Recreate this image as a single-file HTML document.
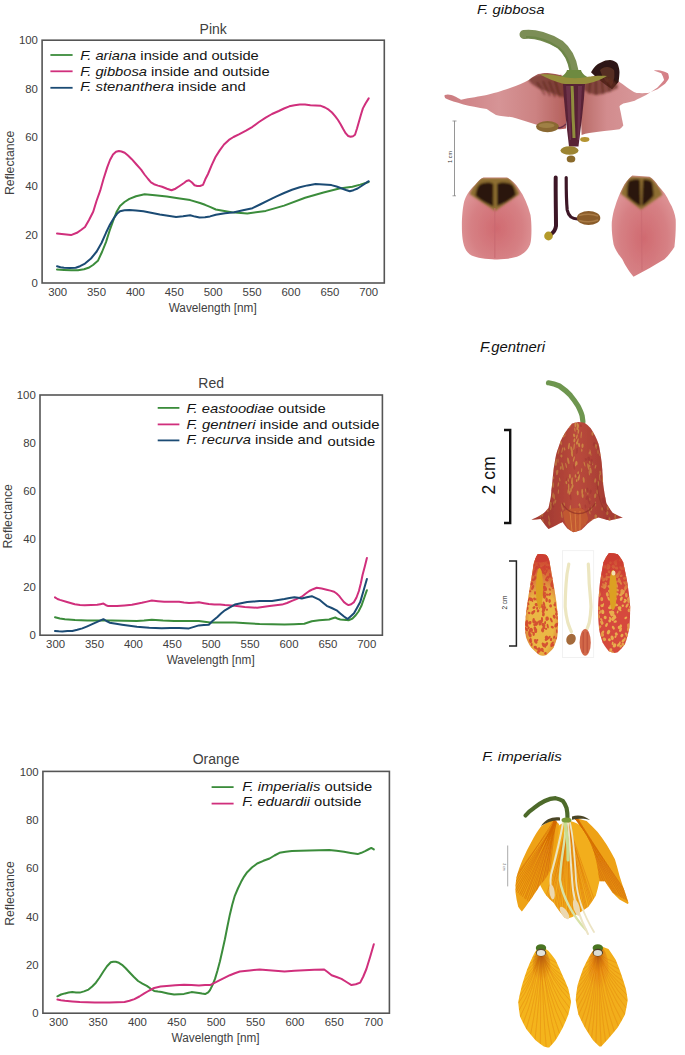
<!DOCTYPE html>
<html><head><meta charset="utf-8"><title>Fritillaria reflectance</title>
<style>
html,body{margin:0;padding:0;background:#fff;}
body{width:685px;height:1055px;overflow:hidden;font-family:"Liberation Sans",sans-serif;}
svg{display:block;}
.tk{font-family:"Liberation Sans",sans-serif;font-size:11.4px;fill:#404040;}
.lb{font-family:"Liberation Sans",sans-serif;font-size:12px;fill:#404040;}
.tt{font-family:"Liberation Sans",sans-serif;font-size:14px;fill:#404040;}
.lg{font-family:"Liberation Sans",sans-serif;font-size:12.8px;fill:#141414;}
.ft{font-family:"Liberation Sans",sans-serif;font-size:13.6px;font-style:italic;fill:#111;}
</style></head>
<body>
<svg width="685" height="1055" viewBox="0 0 685 1055">
<rect width="685" height="1055" fill="#fff"/>
<rect x="42.1" y="40.2" width="342.2" height="242.8" fill="none" stroke="#555555" stroke-width="1.6"/>
<text x="37.9" y="287.1" text-anchor="end" class="tk">0</text>
<text x="37.9" y="238.5" text-anchor="end" class="tk">20</text>
<text x="37.9" y="190.0" text-anchor="end" class="tk">40</text>
<text x="37.9" y="141.4" text-anchor="end" class="tk">60</text>
<text x="37.9" y="92.9" text-anchor="end" class="tk">80</text>
<text x="37.9" y="44.3" text-anchor="end" class="tk">100</text>
<text x="57.7" y="296.0" text-anchor="middle" class="tk">300</text>
<text x="96.5" y="296.0" text-anchor="middle" class="tk">350</text>
<text x="135.4" y="296.0" text-anchor="middle" class="tk">400</text>
<text x="174.3" y="296.0" text-anchor="middle" class="tk">450</text>
<text x="213.2" y="296.0" text-anchor="middle" class="tk">500</text>
<text x="252.1" y="296.0" text-anchor="middle" class="tk">550</text>
<text x="291.0" y="296.0" text-anchor="middle" class="tk">600</text>
<text x="329.9" y="296.0" text-anchor="middle" class="tk">650</text>
<text x="368.7" y="296.0" text-anchor="middle" class="tk">700</text>
<text x="168.7" y="311.5" class="lb" textLength="88" lengthAdjust="spacingAndGlyphs">Wavelength [nm]</text>
<text transform="translate(13.6,195.1) rotate(-90)" class="lb" textLength="64.5" lengthAdjust="spacingAndGlyphs">Reflectance</text>
<text x="213.2" y="33.5" text-anchor="middle" class="tt">Pink</text>
<polyline fill="none" stroke="#3b8c3b" stroke-width="2.00" stroke-linejoin="round" stroke-linecap="round" points="57.0,269.5 64.0,269.9 71.0,270.2 78.0,270.2 84.0,269.3 88.5,267.8 93.0,265.0 97.9,260.8 102.0,252.0 106.0,242.1 109.5,231.0 113.0,221.1 116.5,212.0 120.0,205.9 124.5,202.0 129.4,198.9 136.0,196.2 144.6,194.2 155.0,195.2 166.8,196.6 178.0,198.2 190.2,200.1 200.0,203.0 205.0,204.8 210.0,206.9 215.8,209.5 231.5,212.2 247.3,213.5 265.7,210.9 284.1,205.6 305.1,197.7 323.5,192.5 339.3,188.5 352.4,186.7 360.3,184.6 368.7,182.0"/>
<polyline fill="none" stroke="#d02f7c" stroke-width="2.00" stroke-linejoin="round" stroke-linecap="round" points="57.0,233.5 64.0,234.3 71.0,235.1 76.9,232.8 81.0,230.0 85.0,227.0 89.0,220.0 93.2,211.8 96.5,201.0 100.2,190.7 103.5,179.0 107.2,167.4 110.0,160.0 113.0,154.5 116.0,151.8 118.9,151.0 121.5,151.5 124.7,152.7 128.0,155.5 131.8,159.2 136.5,164.5 141.1,169.7 144.5,174.5 148.1,179.0 151.0,182.3 154.0,184.2 158.0,185.6 162.1,186.8 167.0,188.8 171.5,190.3 175.5,188.7 179.6,186.0 184.0,183.0 186.5,181.0 189.0,180.2 192.0,182.5 194.5,185.2 197.2,186.0 200.0,186.0 203.0,184.9 205.3,179.3 208.0,174.0 211.8,164.9 215.5,157.0 219.7,150.4 224.0,144.5 228.9,139.9 233.5,137.0 239.4,134.1 246.0,130.6 252.5,126.8 259.0,122.0 265.7,117.6 272.0,114.0 278.8,111.0 284.0,108.5 289.3,106.3 294.5,105.2 299.8,104.5 305.0,104.6 310.4,105.2 315.6,105.4 320.9,105.8 325.0,107.5 328.7,109.7 332.0,112.5 335.3,116.3 338.0,120.0 340.6,124.2 343.2,129.0 345.8,133.4 348.2,136.0 350.6,136.8 353.0,136.2 355.0,134.7 357.0,128.5 359.0,121.5 361.0,114.5 362.9,108.4 365.5,103.5 368.7,98.4"/>
<polyline fill="none" stroke="#1b4b74" stroke-width="2.00" stroke-linejoin="round" stroke-linecap="round" points="57.0,266.2 60.5,267.2 64.0,267.8 70.0,267.9 75.7,267.8 80.0,266.2 85.0,263.6 91.0,258.5 96.7,251.5 101.5,243.0 106.0,232.8 110.0,224.5 114.2,217.6 117.0,213.8 120.0,211.3 124.5,210.3 129.4,209.9 136.0,210.4 143.4,211.3 151.0,212.8 159.8,214.6 168.0,215.8 176.1,216.9 183.0,216.3 190.2,215.3 195.0,216.6 199.5,217.6 205.0,217.3 210.0,216.4 215.8,214.8 225.0,213.2 234.2,212.2 243.0,210.3 252.5,208.2 260.0,204.5 268.3,200.4 276.0,196.6 284.1,193.0 292.0,189.8 299.8,187.2 307.5,185.4 315.6,184.1 323.5,184.4 331.4,185.1 336.5,186.5 341.9,188.5 346.0,190.0 349.8,191.2 353.5,190.2 357.6,188.5 363.0,185.0 368.7,181.2"/>
<line x1="50.4" y1="55.0" x2="72.6" y2="55.0" stroke="#3b8c3b" stroke-width="1.8"/>
<text x="80.2" y="59.9" class="lg" textLength="178.6" lengthAdjust="spacingAndGlyphs"><tspan font-style="italic">F. ariana</tspan> inside and outside</text>
<line x1="50.4" y1="71.3" x2="72.6" y2="71.3" stroke="#d02f7c" stroke-width="1.8"/>
<text x="80.2" y="75.5" class="lg" textLength="189.4" lengthAdjust="spacingAndGlyphs"><tspan font-style="italic">F. gibbosa</tspan> inside and outside</text>
<line x1="50.4" y1="87.8" x2="72.6" y2="87.8" stroke="#1b4b74" stroke-width="1.8"/>
<text x="80.2" y="90.9" class="lg" textLength="165.5" lengthAdjust="spacingAndGlyphs"><tspan font-style="italic">F. stenanthera</tspan> inside and</text>
<rect x="40.0" y="395.0" width="342.4" height="240.2" fill="none" stroke="#555555" stroke-width="1.6"/>
<text x="35.8" y="639.3" text-anchor="end" class="tk">0</text>
<text x="35.8" y="591.3" text-anchor="end" class="tk">20</text>
<text x="35.8" y="543.2" text-anchor="end" class="tk">40</text>
<text x="35.8" y="495.2" text-anchor="end" class="tk">60</text>
<text x="35.8" y="447.1" text-anchor="end" class="tk">80</text>
<text x="35.8" y="399.1" text-anchor="end" class="tk">100</text>
<text x="55.6" y="648.2" text-anchor="middle" class="tk">300</text>
<text x="94.5" y="648.2" text-anchor="middle" class="tk">350</text>
<text x="133.4" y="648.2" text-anchor="middle" class="tk">400</text>
<text x="172.3" y="648.2" text-anchor="middle" class="tk">450</text>
<text x="211.2" y="648.2" text-anchor="middle" class="tk">500</text>
<text x="250.1" y="648.2" text-anchor="middle" class="tk">550</text>
<text x="289.0" y="648.2" text-anchor="middle" class="tk">600</text>
<text x="327.9" y="648.2" text-anchor="middle" class="tk">650</text>
<text x="366.8" y="648.2" text-anchor="middle" class="tk">700</text>
<text x="166.7" y="663.7" class="lb" textLength="88" lengthAdjust="spacingAndGlyphs">Wavelength [nm]</text>
<text transform="translate(11.5,548.6) rotate(-90)" class="lb" textLength="64.5" lengthAdjust="spacingAndGlyphs">Reflectance</text>
<text x="211.2" y="388.2" text-anchor="middle" class="tt">Red</text>
<polyline fill="none" stroke="#3b8c3b" stroke-width="2.00" stroke-linejoin="round" stroke-linecap="round" points="55.0,617.2 59.9,618.5 64.9,619.2 75.0,620.0 87.2,620.5 100.0,620.5 112.0,620.5 124.0,620.8 136.9,621.0 144.0,620.5 151.8,619.7 163.0,620.5 174.1,621.0 186.0,621.0 198.9,621.0 210.0,622.5 222.0,622.5 234.8,622.5 247.0,623.2 259.6,624.0 272.0,624.3 284.5,624.5 294.0,624.2 304.3,623.7 308.0,622.5 311.8,621.2 319.2,620.2 329.1,619.5 332.0,618.5 335.3,617.5 338.0,618.8 340.3,619.5 349.0,620.2 352.5,618.5 355.2,615.8 358.5,611.5 361.4,605.8 364.0,598.5 366.9,590.2"/>
<polyline fill="none" stroke="#d02f7c" stroke-width="2.00" stroke-linejoin="round" stroke-linecap="round" points="55.0,597.4 57.5,599.0 59.9,599.9 67.0,602.0 74.8,604.3 80.0,605.0 84.7,605.3 91.0,605.1 97.2,604.8 100.3,604.2 103.4,603.6 106.0,605.2 108.3,606.1 117.0,606.1 124.5,605.5 131.9,604.8 137.0,603.7 141.8,602.8 147.0,601.6 151.8,600.6 158.0,601.2 164.2,601.8 171.6,601.8 179.1,601.8 184.0,602.5 189.0,603.1 194.0,602.7 198.9,602.3 204.0,603.2 208.8,604.1 214.4,604.4 220.0,604.5 224.9,605.1 234.8,605.8 244.7,607.1 257.2,607.8 269.6,606.1 282.0,604.6 287.0,603.0 291.9,600.9 297.0,598.8 301.8,596.7 305.5,593.8 309.3,591.0 313.0,589.2 316.7,587.7 321.7,588.5 326.7,589.7 330.4,590.6 334.1,591.7 336.6,593.5 339.1,595.9 341.5,599.0 344.0,602.1 346.2,603.8 348.5,605.1 351.2,604.2 354.0,602.1 356.5,597.5 358.9,591.0 360.8,583.5 362.6,574.8 364.8,566.5 366.9,557.9"/>
<polyline fill="none" stroke="#1b4b74" stroke-width="2.00" stroke-linejoin="round" stroke-linecap="round" points="55.0,630.9 58.7,631.3 62.4,631.4 67.4,631.1 72.3,630.9 77.3,629.8 82.3,628.4 87.3,626.3 92.2,624.2 97.8,621.7 103.4,619.2 106.5,621.0 109.6,622.7 116.0,623.8 122.0,624.7 129.5,625.7 136.9,626.7 143.0,627.2 149.3,627.7 155.5,628.0 161.7,628.2 170.4,628.0 179.1,627.9 184.0,628.2 189.0,628.4 194.0,626.9 198.9,625.4 203.9,625.0 208.8,624.7 212.5,621.0 217.4,617.0 221.0,613.5 224.9,610.3 229.9,607.4 234.8,604.6 241.0,603.3 247.2,602.1 253.4,601.6 259.6,601.1 265.8,601.0 272.0,600.9 278.2,600.0 284.5,599.1 289.5,598.1 294.4,597.2 298.1,597.8 301.8,598.4 306.8,597.3 311.8,596.2 315.5,597.9 319.2,599.6 323.0,602.7 326.7,605.8 331.7,608.0 336.6,610.3 340.3,613.4 344.0,616.5 345.9,617.8 347.7,619.0 350.8,616.2 354.0,613.3 357.1,607.7 360.2,602.1 363.6,590.5 366.9,579.0"/>
<line x1="157.7" y1="407.9" x2="179.4" y2="407.9" stroke="#3b8c3b" stroke-width="1.8"/>
<text x="186.5" y="413.0" class="lg" textLength="139.2" lengthAdjust="spacingAndGlyphs"><tspan font-style="italic">F. eastoodiae</tspan> outside</text>
<line x1="157.7" y1="424.4" x2="179.4" y2="424.4" stroke="#d02f7c" stroke-width="1.8"/>
<text x="186.5" y="428.8" class="lg" textLength="193.0" lengthAdjust="spacingAndGlyphs"><tspan font-style="italic">F. gentneri</tspan> inside and outside</text>
<line x1="157.7" y1="440.4" x2="179.4" y2="440.4" stroke="#1b4b74" stroke-width="1.8"/>
<text x="186.5" y="443.8" class="lg" textLength="135.7" lengthAdjust="spacingAndGlyphs"><tspan font-style="italic">F. recurva</tspan> inside and</text>
<text x="327.6" y="446.2" class="lg" textLength="47.6" lengthAdjust="spacingAndGlyphs">outside</text>
<rect x="42.9" y="771.4" width="346.5" height="241.8" fill="none" stroke="#555555" stroke-width="1.6"/>
<text x="38.7" y="1017.3" text-anchor="end" class="tk">0</text>
<text x="38.7" y="968.9" text-anchor="end" class="tk">20</text>
<text x="38.7" y="920.6" text-anchor="end" class="tk">40</text>
<text x="38.7" y="872.2" text-anchor="end" class="tk">60</text>
<text x="38.7" y="823.9" text-anchor="end" class="tk">80</text>
<text x="38.7" y="775.5" text-anchor="end" class="tk">100</text>
<text x="58.6" y="1026.2" text-anchor="middle" class="tk">300</text>
<text x="98.0" y="1026.2" text-anchor="middle" class="tk">350</text>
<text x="137.4" y="1026.2" text-anchor="middle" class="tk">400</text>
<text x="176.8" y="1026.2" text-anchor="middle" class="tk">450</text>
<text x="216.2" y="1026.2" text-anchor="middle" class="tk">500</text>
<text x="255.5" y="1026.2" text-anchor="middle" class="tk">550</text>
<text x="294.9" y="1026.2" text-anchor="middle" class="tk">600</text>
<text x="334.3" y="1026.2" text-anchor="middle" class="tk">650</text>
<text x="373.6" y="1026.2" text-anchor="middle" class="tk">700</text>
<text x="171.6" y="1041.7" class="lb" textLength="88" lengthAdjust="spacingAndGlyphs">Wavelength [nm]</text>
<text transform="translate(14.4,925.8) rotate(-90)" class="lb" textLength="64.5" lengthAdjust="spacingAndGlyphs">Reflectance</text>
<text x="216.1" y="764.3" text-anchor="middle" class="tt">Orange</text>
<polyline fill="none" stroke="#3b8c3b" stroke-width="2.00" stroke-linejoin="round" stroke-linecap="round" points="57.4,996.3 61.0,994.5 64.9,993.4 68.6,992.6 72.3,992.1 76.0,992.4 79.8,992.6 84.0,991.4 88.5,989.6 92.2,986.5 95.9,982.7 99.6,977.5 103.4,971.5 107.0,966.3 110.8,962.3 113.3,961.7 115.8,961.8 118.9,962.8 122.0,964.8 125.7,968.3 129.4,972.3 133.7,976.8 138.1,981.0 142.4,983.6 146.8,985.9 150.5,988.5 154.2,990.9 158.0,991.6 161.7,992.1 167.9,993.4 174.1,994.6 179.0,994.3 184.0,993.9 187.8,993.0 191.5,992.1 195.2,992.4 198.9,992.9 202.0,993.6 205.1,994.1 208.2,992.4 210.0,990.1 212.5,985.0 215.0,978.9 217.5,970.5 219.9,961.5 222.4,950.5 224.9,939.2 227.4,926.5 229.9,914.4 232.3,904.5 234.8,895.8 237.9,888.5 241.0,882.1 244.1,876.6 247.2,872.2 252.2,867.3 257.2,863.5 263.4,860.8 269.6,858.5 274.5,855.5 279.5,852.8 285.7,851.8 291.9,851.1 300.6,850.8 309.3,850.6 319.2,850.2 329.1,849.9 336.5,850.8 344.0,851.8 350.8,852.9 357.7,854.1 361.4,852.8 365.1,851.1 368.2,849.5 371.3,847.9 373.8,849.4"/>
<polyline fill="none" stroke="#d02f7c" stroke-width="2.00" stroke-linejoin="round" stroke-linecap="round" points="57.4,999.6 61.0,1000.3 64.9,1000.8 72.3,1001.4 79.8,1002.0 87.2,1002.3 94.7,1002.5 102.0,1002.5 109.6,1002.5 117.0,1002.3 124.5,1002.0 129.5,1000.8 134.4,999.1 139.4,996.5 144.3,993.4 149.3,990.5 154.2,987.9 160.5,986.6 166.7,985.9 175.3,985.3 184.0,984.7 191.5,985.0 198.9,985.4 205.1,985.0 210.0,985.1 215.0,982.6 219.9,980.2 224.9,977.7 229.9,975.2 234.8,973.2 239.8,971.5 249.7,970.5 259.6,969.5 272.0,970.5 284.5,971.5 294.4,970.8 304.3,970.2 314.3,969.8 324.2,969.5 327.9,972.2 331.6,975.2 336.6,977.0 341.5,978.9 346.5,982.0 351.5,985.1 355.8,984.3 360.2,982.6 363.3,976.5 366.4,969.0 370.1,957.0 373.8,944.2"/>
<line x1="211.6" y1="787.1" x2="233.6" y2="787.1" stroke="#3b8c3b" stroke-width="1.8"/>
<text x="242.3" y="790.5" class="lg" textLength="130.0" lengthAdjust="spacingAndGlyphs"><tspan font-style="italic">F. imperialis</tspan> outside</text>
<line x1="211.6" y1="803.6" x2="233.6" y2="803.6" stroke="#d02f7c" stroke-width="1.8"/>
<text x="242.3" y="805.5" class="lg" textLength="119.2" lengthAdjust="spacingAndGlyphs"><tspan font-style="italic">F. eduardii</tspan> outside</text>
<defs>
<clipPath id="cpGibF"><path d="M583,80 C588,78 593,76 598.7,75.1 C602,75.5 605,75.6 608.1,76.1 C611,77.5 614,79 617.6,80.8 C621,83 624,85 627.1,87.4 C630,89.5 633,91.5 636.6,93.1 C640,93.3 644,93.3 648,93.1 C651,92 654,90.8 657.5,89.3 C660,87.5 662.5,85.5 665.1,83.7 C667,81.5 668.5,79.5 668.9,78 C669,76 668.5,74.5 667.9,73.2 C665,71.8 662.5,70.8 660.3,70.4 C658,70.2 655.5,70.2 653.7,70.4 C656,71.2 658.5,72.2 661.3,73.2 C662.5,75.5 663.5,77.5 664.1,79.9 C662,82.5 660,85 657.5,87.4 C654,90 650,92.5 646.1,95 C642,97 638,99 634.7,100.7 C631,101.8 627,102.8 623.3,103.6 C621.5,104.5 620,105.5 619.5,106.4 C620,109.5 621,113 621.4,115.9 C622,119 622.8,122.5 623.3,125.4 C622,127 620.8,128.2 619.5,129.2 C614,129.8 609,130.5 604.3,131.1 C599,131.7 594,132.3 589.2,133 C586.5,133.5 584,134.2 581.6,134.9 L580,90 Z"/><path d="M444.7,95.1 C450,93 456,97 461,99.7 C470,98 480,96.5 486.7,95.1 C497,92.5 505,90 510,88.1 C518,85 524,82.5 528.8,79.9 C533,77 536,75 538.1,74.1 C542,73 545,72.8 547.5,72.9 C553,73.5 558,74.5 561.5,75.2 L566,86 L566,128.5 C562,129.5 559,129.3 556.8,129 C552,128.5 548,128 545,127.8 C540,125.5 535,124.3 531.1,123.1 C525,121 518,119 512.4,117.3 C506,116.5 500,116 496,115 C492,113 489,110.5 486.7,109.1 C478,107.5 470,106 463.4,104.4 C456,102.5 450,100.5 445.8,98.6 C444.5,97.5 444.3,96 444.7,95.1 Z"/><rect x="560" y="70" width="30" height="20"/></clipPath>
<radialGradient id="gNubShade" cx="0.5" cy="0.2" r="0.8">
<stop offset="0" stop-color="#a04808" stop-opacity="0.7"/><stop offset="1" stop-color="#d8700c" stop-opacity="0"/>
</radialGradient>
<radialGradient id="gNubShade2" cx="0.5" cy="0.2" r="0.8">
<stop offset="0" stop-color="#a04808" stop-opacity="0.7"/><stop offset="0.5" stop-color="#e07010" stop-opacity="0.35"/><stop offset="1" stop-color="#e07010" stop-opacity="0"/>
</radialGradient>
<radialGradient id="gEdgeR" cx="0.5" cy="0.6" r="0.62">
<stop offset="0.55" stop-color="#cc3a30" stop-opacity="0"/><stop offset="1" stop-color="#cc3a30" stop-opacity="0.75"/>
</radialGradient>
<linearGradient id="gTopR" x1="0" y1="0" x2="0" y2="1">
<stop offset="0" stop-color="#cc4030" stop-opacity="0.85"/><stop offset="0.3" stop-color="#cc4030" stop-opacity="0.35"/><stop offset="0.45" stop-color="#cc4030" stop-opacity="0"/>
</linearGradient>
<clipPath id="cpPL"><path d="M483.5,177.4 L507.1,177.4 C512,180 516,184 519,189 C524,196 528,205 530.5,215 C532,225 531.5,238 530.7,242 C529.5,249 524,254 517,256.8 C508,259.5 498,259.8 492.2,259.3 C482,258.5 474,257 469.9,254.4 C464,250 462.5,242 462,232 C461.5,220 462.5,208 464.3,201 C467,193 471,189 475,185 C478,181 480.5,178.5 483.5,177.4 Z"/></clipPath>
<clipPath id="cpPR"><path d="M632.3,175.6 L649.6,176.8 C653,179 656,182 658.3,186.1 C663,191 667,196 669.5,202.3 C673,208 675,214 675.7,219.6 C676,228 675.5,238 674.4,246.9 C671,252 668,256 664.5,259.3 C655,265 645,271 633.5,276.7 C628,270 625,265 622.3,259.3 C618,254 615,249 613.6,244.4 C612,236 611.5,229 611.8,222.1 C612.5,216 613.5,211 614.9,207.2 C617,200 619.5,194 622.3,188.6 C625,183 628,179 632.3,175.6 Z"/></clipPath>
<linearGradient id="gbellShade" x1="0" y1="0" x2="1" y2="0">
<stop offset="0.2" stop-color="#7a2020" stop-opacity="0.35"/><stop offset="0.5" stop-color="#7a2020" stop-opacity="0"/><stop offset="0.8" stop-color="#7a2020" stop-opacity="0.3"/>
</linearGradient>
<filter id="soft" x="-5%" y="-5%" width="110%" height="110%"><feGaussianBlur stdDeviation="0.55"/></filter>
<linearGradient id="gpetL" x1="0" y1="0" x2="0" y2="1">
<stop offset="0" stop-color="#7a4030"/><stop offset="0.35" stop-color="#5a2a20"/><stop offset="0.45" stop-color="#d98890"/><stop offset="1" stop-color="#d27a82"/>
</linearGradient>
<linearGradient id="gpetR" x1="0" y1="0" x2="0" y2="1">
<stop offset="0" stop-color="#7a4a28"/><stop offset="0.3" stop-color="#4a2018"/><stop offset="0.38" stop-color="#d98890"/><stop offset="1" stop-color="#d27a82"/>
</linearGradient>
<linearGradient id="gflwL" x1="444" y1="0" x2="566" y2="0" gradientUnits="userSpaceOnUse">
<stop offset="0" stop-color="#cc7c80"/><stop offset="0.45" stop-color="#d69496"/><stop offset="0.75" stop-color="#cc8282"/><stop offset="1" stop-color="#b4605c"/>
</linearGradient>
<linearGradient id="gflwR" x1="580" y1="0" x2="670" y2="0" gradientUnits="userSpaceOnUse">
<stop offset="0" stop-color="#b86a66"/><stop offset="0.3" stop-color="#d28c8e"/><stop offset="0.7" stop-color="#d8989a"/><stop offset="1" stop-color="#d47c84"/>
</linearGradient>
<radialGradient id="gpetP" cx="0.5" cy="0.62" r="0.62">
<stop offset="0" stop-color="#d06a70"/><stop offset="0.6" stop-color="#d68084"/><stop offset="1" stop-color="#e09a9c"/>
</radialGradient>
<filter id="soft2" x="-20%" y="-20%" width="140%" height="140%"><feGaussianBlur stdDeviation="1.1"/></filter>
<linearGradient id="gbell" x1="0" y1="0" x2="0" y2="1">
<stop offset="0" stop-color="#b84a3c"/><stop offset="0.6" stop-color="#c65a3c"/><stop offset="1" stop-color="#c85a34"/>
</linearGradient>
<linearGradient id="gpet2" x1="0" y1="0" x2="0" y2="1">
<stop offset="0" stop-color="#d44838"/><stop offset="0.4" stop-color="#e0903a"/><stop offset="1" stop-color="#e09a3a"/>
</linearGradient>
<linearGradient id="gimp" x1="0" y1="0" x2="0" y2="1">
<stop offset="0" stop-color="#e89a18"/><stop offset="1" stop-color="#f0a820"/>
</linearGradient>
<linearGradient id="gimpP" x1="0" y1="0" x2="0" y2="1">
<stop offset="0" stop-color="#e88a10"/><stop offset="0.3" stop-color="#f2aa18"/><stop offset="1" stop-color="#f2b020"/>
</linearGradient>
</defs>

<!-- ===== F. gibbosa ===== -->
<text x="477" y="14.2" class="ft" textLength="67.5" lengthAdjust="spacingAndGlyphs">F. gibbosa</text>
<g filter="url(#soft)"><!-- right petal (behind) -->
<path d="M583,80 C588,78 593,76 598.7,75.1 C602,75.5 605,75.6 608.1,76.1 C611,77.5 614,79 617.6,80.8 C621,83 624,85 627.1,87.4 C630,89.5 633,91.5 636.6,93.1 C640,93.3 644,93.3 648,93.1 C651,92 654,90.8 657.5,89.3 C660,87.5 662.5,85.5 665.1,83.7 C667,81.5 668.5,79.5 668.9,78 C669,76 668.5,74.5 667.9,73.2 C665,71.8 662.5,70.8 660.3,70.4 C658,70.2 655.5,70.2 653.7,70.4 C656,71.2 658.5,72.2 661.3,73.2 C662.5,75.5 663.5,77.5 664.1,79.9 C662,82.5 660,85 657.5,87.4 C654,90 650,92.5 646.1,95 C642,97 638,99 634.7,100.7 C631,101.8 627,102.8 623.3,103.6 C621.5,104.5 620,105.5 619.5,106.4 C620,109.5 621,113 621.4,115.9 C622,119 622.8,122.5 623.3,125.4 C622,127 620.8,128.2 619.5,129.2 C614,129.8 609,130.5 604.3,131.1 C599,131.7 594,132.3 589.2,133 C586.5,133.5 584,134.2 581.6,134.9 L580,90 Z" fill="url(#gflwR)"/>
<!-- dark back tepal -->
<path d="M591,72.3 C594,67 597,64 600.5,62.8 C604,60.5 607,59.9 610,59.9 C614,60.5 616.5,62 617.6,63.7 C619,67 619.5,70 619.5,72.3 C619.3,76 619,79 618.6,81.8 C616,85 614,87.5 612,89.3 C605,85 598,79 591,72.3 Z" fill="#2e1612"/>
<path d="M600,70 C604,66 610,66 614,70 C615,76 614,82 611,86 C606,82 602,77 600,70 Z" fill="#6a3a28" opacity="0.7"/>
<!-- left petal -->
<path d="M444.7,95.1 C450,93 456,97 461,99.7 C470,98 480,96.5 486.7,95.1 C497,92.5 505,90 510,88.1 C518,85 524,82.5 528.8,79.9 C533,77 536,75 538.1,74.1 C542,73 545,72.8 547.5,72.9 C553,73.5 558,74.5 561.5,75.2 L566,86 L566,128.5 C562,129.5 559,129.3 556.8,129 C552,128.5 548,128 545,127.8 C540,125.5 535,124.3 531.1,123.1 C525,121 518,119 512.4,117.3 C506,116.5 500,116 496,115 C492,113 489,110.5 486.7,109.1 C478,107.5 470,106 463.4,104.4 C456,102.5 450,100.5 445.8,98.6 C444.5,97.5 444.3,96 444.7,95.1 Z" fill="url(#gflwL)"/>
<!-- inner dark throat -->
<g clip-path="url(#cpGibF)"><g filter="url(#soft2)">
<path d="M528,78 C534,75 541,73.5 548,73.5 C556,74 562,76 566,79 L566,98 C560,96 554,94 548,92 C542,90 536,87 532,84 C529.5,82 528.3,80 528,78 Z" fill="#6a2c22" opacity="0.7"/>
<path d="M537,82 L545,95 M543,81 L550,96 M549,81 L555,97 M555,81 L560,97" stroke="#3e160e" stroke-width="1.4" opacity="0.55"/>
<path d="M584,79 C592,77 602,77 612,80 C616,82 618,85 618,88 C612,91 604,94 596,95 C591,94 587,92 584,90 Z" fill="#6a2c22" opacity="0.7"/>
<path d="M590,82 L589,94 M596,81 L596,95 M602,81 L603,94 M608,82 L610,92" stroke="#3e160e" stroke-width="1.4" opacity="0.55"/>
</g></g>
<!-- stem -->
<path d="M524,34.5 C535,33 549,37.5 560,44.5 C568,51 572,60 573.8,70 L574,80" fill="none" stroke="#7b8e56" stroke-width="9" stroke-linecap="round"/>
<path d="M526,37 C537,36.5 549,41 559,48 C566,54 569.5,62 571,72" fill="none" stroke="#62803e" stroke-width="2" opacity="0.6"/>
<path d="M567,70 C566,74 562,77 556,79 L592,79 C586,77 582,74 581,70 Z" fill="#6e8a40"/>
<!-- olive collar -->
<path d="M540,74.5 C548,73.5 557,75 566,77.5 C572,78.5 578,78.5 584,77.5 C592,76 600,75.5 607,76 C602,79 596,81.5 588,83.5 C580,85 570,85 562,83.5 C555,81.5 547,78.5 540,74.5 Z" fill="#968e3a"/>
<!-- pistil / perianth column -->
<path d="M563,84 L585,84 C584,104 581,125 578.5,146.5 L569,146.5 C566.5,125 564,104 563,84 Z" fill="#582236"/>
<path d="M566,86 L570,86 L571,140 L569.5,140 Z M578,86 L582,86 L579,140 L577.5,140 Z" fill="#7a3a58" opacity="0.6"/>
<path d="M572,86 C573,100 572.5,112 573.5,125 L574,138" stroke="#9aa040" stroke-width="3" fill="none" opacity="0.85"/>
<ellipse cx="547.5" cy="126.6" rx="11.5" ry="5.6" fill="#8a6832"/>
<ellipse cx="546.5" cy="125.5" rx="8" ry="2.4" fill="#a88a4c" opacity="0.7"/>
<path d="M558,128 C562,128 564,126 566,124" stroke="#6a3048" stroke-width="1.3" fill="none"/>
<ellipse cx="584.8" cy="139.5" rx="4.6" ry="2.4" fill="#b49430"/>
<ellipse cx="569.5" cy="150.5" rx="9" ry="4.3" fill="#9c8430"/>
<ellipse cx="571" cy="159" rx="4.3" ry="3.6" fill="#8a6a2c"/></g>
<!-- scale bar -->
<line x1="454.5" y1="120.8" x2="454.5" y2="196" stroke="#8a8a8a" stroke-width="0.9"/>
<line x1="452.5" y1="121" x2="456.5" y2="121" stroke="#8a8a8a" stroke-width="0.8"/>
<line x1="452.5" y1="195.8" x2="456" y2="195.8" stroke="#8a8a8a" stroke-width="0.8"/>
<text transform="translate(451.8,163) rotate(-90)" font-size="5.6" fill="#333">1 cm</text>
<g filter="url(#soft)"><!-- lower petals -->
<path d="M483.5,177.4 L507.1,177.4 C512,180 516,184 519,189 C524,196 528,205 530.5,215 C532,225 531.5,238 530.7,242 C529.5,249 524,254 517,256.8 C508,259.5 498,259.8 492.2,259.3 C482,258.5 474,257 469.9,254.4 C464,250 462.5,242 462,232 C461.5,220 462.5,208 464.3,201 C467,193 471,189 475,185 C478,181 480.5,178.5 483.5,177.4 Z" fill="url(#gpetP)"/>
<g clip-path="url(#cpPL)"><g filter="url(#soft2)"><path d="M481,178 L509,178 C514,183 518,189 519.5,194 L495,211 L469.5,194 C472,188 476,182 481,178 Z" fill="#8e6e30"/>
<path d="M479,185 C484,182 490,182 493.3,184 L493.3,206.5 C487,204 480,200 475.5,195.5 C476,191 477,188 479,185 Z" fill="#2c120c"/>
<path d="M497,184 C501,182 508,182 512.5,185 C514.5,188 515.5,191 515.8,195 C510,200 503,204 497,206 Z" fill="#2c120c"/>
</g></g>
<line x1="494.8" y1="208" x2="494.8" y2="258" stroke="#c86870" stroke-width="1.6" opacity="0.6"/>
<path d="M632.3,175.6 L649.6,176.8 C653,179 656,182 658.3,186.1 C663,191 667,196 669.5,202.3 C673,208 675,214 675.7,219.6 C676,228 675.5,238 674.4,246.9 C671,252 668,256 664.5,259.3 C655,265 645,271 633.5,276.7 C628,270 625,265 622.3,259.3 C618,254 615,249 613.6,244.4 C612,236 611.5,229 611.8,222.1 C612.5,216 613.5,211 614.9,207.2 C617,200 619.5,194 622.3,188.6 C625,183 628,179 632.3,175.6 Z" fill="url(#gpetP)"/>
<g clip-path="url(#cpPR)"><g filter="url(#soft2)"><path d="M630,176.5 L651,177.5 C656,182 660,188 662.5,194.8 L641,209.7 L620.5,193.6 C623,187 626,181 630,176.5 Z" fill="#8e6e30"/>
<path d="M628.5,181 C633,179 638,179 640,180 L640.5,206 C636,204 631,200 627,196 C627,190 627.5,185 628.5,181 Z" fill="#2c120c"/>
<path d="M643,180 C646,179 650,180 652,182 C653,187 653.5,191 653.5,196 C650,200 646,204 642,206 Z" fill="#2c120c"/>
</g></g>
<line x1="641.5" y1="210" x2="642" y2="270" stroke="#c86870" stroke-width="1.4" opacity="0.5"/>
<!-- filaments -->
<path d="M555.7,177.5 C555.5,195 556,212 556,226 C555.5,230 553,233 550,235" stroke="#3e1828" stroke-width="4" fill="none" stroke-linecap="round"/>
<ellipse cx="548.5" cy="236" rx="4.3" ry="4.4" fill="#b49a2c"/>
<path d="M566.2,177.5 C566.2,190 566.5,203 567.2,210 C568.5,216 572,219 577.5,219" stroke="#3e1828" stroke-width="3.2" fill="none" stroke-linecap="round"/>
<ellipse cx="588.6" cy="218" rx="11.7" ry="7.1" fill="#8a5c2a"/>
<path d="M579,215.5 C585,214 593,214 598,216" stroke="#a87a44" stroke-width="1.6" fill="none"/>
<path d="M579,220.5 C585,222 593,222 598,220" stroke="#a87a44" stroke-width="1.6" fill="none"/>
</g>
<!-- ===== F. gentneri ===== -->
<text x="480" y="352.4" class="ft" style="font-size:14.6px" textLength="65" lengthAdjust="spacingAndGlyphs">F.gentneri</text>
<g filter="url(#soft)"><path d="M548.5,382.8 C553,383.5 556,384.5 559.4,386 C563,388.5 567,391.5 570.4,395.3 C573.5,399 576,402.5 578.2,406.3 C580,410 581.5,413 582.1,415.7 L582.9,421.5" fill="none" stroke="#6e9650" stroke-width="5.2" stroke-linecap="round"/>
<clipPath id="cpBell"><path id="pBell" d="M578.2,422 C575,422.5 573.5,423 572,423.5 C569,427 566.5,430.5 564.1,434.5 C561.5,438.5 560,442.5 558.6,447 C556.5,452 555.5,457 554.7,462.6 C553.5,469 553,475 552.4,481.4 C551.8,487 551.3,492 550.8,497.1 C550,501 549.3,505 548.5,508 C546.5,510.5 544.5,512.5 542.2,514.3 C539,516.5 535,518.3 531.3,519.8 C534.5,519.8 537.5,519.4 540.6,519 C542.2,521 543.8,523.2 545.3,525.2 C546.5,526.6 547.5,527.9 548.5,529.1 C551,527.8 553.5,526.5 556.3,525.2 C558.5,524.2 560.5,523 562.6,522.1 C564,524.3 565.5,526.5 567.3,528.4 C569.3,529.9 571.3,531.2 573.5,532.3 C576,531.5 578.7,530.8 581.3,530 C583.5,528 585.5,525.8 587.6,523.7 C589.7,522.2 591.8,520.5 593.9,519 C595.5,518.4 597,517.9 598.6,517.4 C602,518.5 605.5,519.5 609.5,520.5 C614,519.5 618.5,518.5 622.8,517.4 C619,516 615.5,514.5 612.6,512.7 C610.5,510 608.3,506.8 606.4,503.3 C605,497 604,490.5 603.2,484.5 C602.8,477 602.3,470 601.7,462.6 C600.8,456 600,450 598.6,443.9 C596.5,438 594,433 590.7,428.2 C588.8,426 586.8,424.2 584.5,422.7 C582.5,422.2 580.3,422 578.2,422 Z"/></clipPath>
<use href="#pBell" fill="#ba4a3c"/>
<g clip-path="url(#cpBell)"><g fill="#d49a48" opacity="0.80"><ellipse cx="559.4" cy="437.2" rx="0.9" ry="1.6" transform="rotate(1 559.4 437.2)"/><ellipse cx="563.5" cy="426.6" rx="0.8" ry="1.5" transform="rotate(-2 563.5 426.6)"/><ellipse cx="534.8" cy="430.3" rx="0.8" ry="3.2" transform="rotate(-11 534.8 430.3)"/><ellipse cx="549.7" cy="491.5" rx="1.1" ry="2.7" transform="rotate(-3 549.7 491.5)"/><ellipse cx="622.7" cy="425.3" rx="1.0" ry="2.0" transform="rotate(-11 622.7 425.3)"/><ellipse cx="539.4" cy="455.2" rx="1.0" ry="1.8" transform="rotate(2 539.4 455.2)"/><ellipse cx="590.0" cy="462.5" rx="0.8" ry="1.5" transform="rotate(-13 590.0 462.5)"/><ellipse cx="548.0" cy="497.6" rx="0.8" ry="2.1" transform="rotate(3 548.0 497.6)"/><ellipse cx="572.0" cy="454.2" rx="1.0" ry="2.9" transform="rotate(-8 572.0 454.2)"/><ellipse cx="583.7" cy="479.9" rx="1.0" ry="3.0" transform="rotate(-6 583.7 479.9)"/><ellipse cx="623.1" cy="433.5" rx="0.8" ry="3.1" transform="rotate(-10 623.1 433.5)"/><ellipse cx="575.4" cy="424.5" rx="0.9" ry="3.1" transform="rotate(2 575.4 424.5)"/><ellipse cx="612.9" cy="455.8" rx="0.9" ry="2.7" transform="rotate(2 612.9 455.8)"/><ellipse cx="572.3" cy="515.8" rx="1.1" ry="2.4" transform="rotate(5 572.3 515.8)"/><ellipse cx="533.9" cy="500.0" rx="0.9" ry="3.6" transform="rotate(10 533.9 500.0)"/><ellipse cx="555.6" cy="464.0" rx="0.9" ry="1.4" transform="rotate(-1 555.6 464.0)"/><ellipse cx="544.3" cy="433.3" rx="0.5" ry="3.1" transform="rotate(-11 544.3 433.3)"/><ellipse cx="552.0" cy="464.6" rx="1.0" ry="1.6" transform="rotate(-2 552.0 464.6)"/><ellipse cx="581.3" cy="520.7" rx="1.0" ry="3.3" transform="rotate(-7 581.3 520.7)"/><ellipse cx="568.3" cy="460.9" rx="1.0" ry="3.5" transform="rotate(-10 568.3 460.9)"/><ellipse cx="545.1" cy="446.4" rx="0.6" ry="2.5" transform="rotate(3 545.1 446.4)"/><ellipse cx="553.5" cy="420.5" rx="0.8" ry="2.2" transform="rotate(2 553.5 420.5)"/><ellipse cx="620.5" cy="498.7" rx="0.8" ry="2.8" transform="rotate(5 620.5 498.7)"/><ellipse cx="533.2" cy="522.5" rx="1.0" ry="3.3" transform="rotate(9 533.2 522.5)"/><ellipse cx="566.1" cy="465.5" rx="0.6" ry="2.8" transform="rotate(-13 566.1 465.5)"/><ellipse cx="534.5" cy="443.8" rx="0.6" ry="2.1" transform="rotate(-13 534.5 443.8)"/><ellipse cx="528.0" cy="437.2" rx="0.6" ry="2.2" transform="rotate(-14 528.0 437.2)"/><ellipse cx="612.8" cy="490.0" rx="0.6" ry="2.0" transform="rotate(-5 612.8 490.0)"/><ellipse cx="563.3" cy="434.0" rx="1.0" ry="3.6" transform="rotate(-1 563.3 434.0)"/><ellipse cx="574.9" cy="429.8" rx="0.6" ry="2.2" transform="rotate(-7 574.9 429.8)"/><ellipse cx="608.4" cy="438.4" rx="0.5" ry="3.5" transform="rotate(1 608.4 438.4)"/><ellipse cx="542.2" cy="481.9" rx="0.5" ry="2.6" transform="rotate(14 542.2 481.9)"/><ellipse cx="611.7" cy="499.4" rx="0.7" ry="2.2" transform="rotate(-10 611.7 499.4)"/><ellipse cx="602.9" cy="480.7" rx="1.0" ry="2.1" transform="rotate(-8 602.9 480.7)"/><ellipse cx="606.7" cy="532.3" rx="1.0" ry="3.2" transform="rotate(10 606.7 532.3)"/><ellipse cx="599.8" cy="445.8" rx="0.8" ry="2.2" transform="rotate(-14 599.8 445.8)"/><ellipse cx="530.7" cy="451.9" rx="0.7" ry="2.9" transform="rotate(14 530.7 451.9)"/><ellipse cx="571.4" cy="526.8" rx="1.1" ry="3.5" transform="rotate(-4 571.4 526.8)"/><ellipse cx="549.4" cy="445.9" rx="0.6" ry="1.8" transform="rotate(4 549.4 445.9)"/><ellipse cx="615.3" cy="515.8" rx="0.8" ry="2.8" transform="rotate(9 615.3 515.8)"/><ellipse cx="536.2" cy="495.3" rx="1.0" ry="3.1" transform="rotate(8 536.2 495.3)"/><ellipse cx="574.4" cy="440.4" rx="1.0" ry="2.1" transform="rotate(9 574.4 440.4)"/><ellipse cx="622.3" cy="465.1" rx="0.7" ry="3.5" transform="rotate(7 622.3 465.1)"/><ellipse cx="544.5" cy="434.5" rx="0.6" ry="3.4" transform="rotate(9 544.5 434.5)"/><ellipse cx="542.2" cy="514.2" rx="1.1" ry="2.8" transform="rotate(-4 542.2 514.2)"/><ellipse cx="581.2" cy="434.9" rx="0.5" ry="3.5" transform="rotate(4 581.2 434.9)"/><ellipse cx="579.1" cy="526.4" rx="0.8" ry="3.3" transform="rotate(10 579.1 526.4)"/><ellipse cx="548.5" cy="448.7" rx="0.7" ry="1.9" transform="rotate(3 548.5 448.7)"/><ellipse cx="553.2" cy="467.8" rx="0.6" ry="3.4" transform="rotate(-4 553.2 467.8)"/><ellipse cx="572.4" cy="486.5" rx="1.0" ry="2.3" transform="rotate(13 572.4 486.5)"/><ellipse cx="576.7" cy="480.6" rx="0.8" ry="1.4" transform="rotate(-2 576.7 480.6)"/><ellipse cx="545.8" cy="420.4" rx="1.0" ry="1.8" transform="rotate(-1 545.8 420.4)"/><ellipse cx="598.3" cy="483.4" rx="0.7" ry="2.5" transform="rotate(2 598.3 483.4)"/><ellipse cx="604.1" cy="432.1" rx="0.8" ry="1.9" transform="rotate(-7 604.1 432.1)"/><ellipse cx="602.9" cy="477.9" rx="0.8" ry="3.1" transform="rotate(12 602.9 477.9)"/><ellipse cx="571.0" cy="489.8" rx="0.8" ry="2.5" transform="rotate(6 571.0 489.8)"/><ellipse cx="571.9" cy="480.8" rx="0.8" ry="3.5" transform="rotate(6 571.9 480.8)"/><ellipse cx="613.0" cy="527.4" rx="0.7" ry="2.6" transform="rotate(13 613.0 527.4)"/><ellipse cx="609.5" cy="435.6" rx="0.6" ry="2.4" transform="rotate(-13 609.5 435.6)"/><ellipse cx="551.3" cy="428.3" rx="0.9" ry="3.1" transform="rotate(12 551.3 428.3)"/><ellipse cx="543.0" cy="501.6" rx="0.9" ry="1.7" transform="rotate(11 543.0 501.6)"/><ellipse cx="621.9" cy="445.0" rx="1.1" ry="2.3" transform="rotate(-0 621.9 445.0)"/><ellipse cx="624.0" cy="514.9" rx="0.6" ry="2.3" transform="rotate(0 624.0 514.9)"/><ellipse cx="560.9" cy="442.3" rx="0.7" ry="3.0" transform="rotate(-14 560.9 442.3)"/><ellipse cx="581.7" cy="470.2" rx="0.5" ry="2.1" transform="rotate(4 581.7 470.2)"/><ellipse cx="577.7" cy="427.3" rx="1.1" ry="3.1" transform="rotate(14 577.7 427.3)"/><ellipse cx="538.2" cy="450.3" rx="0.5" ry="3.1" transform="rotate(-7 538.2 450.3)"/><ellipse cx="540.6" cy="468.1" rx="1.0" ry="3.2" transform="rotate(-7 540.6 468.1)"/><ellipse cx="542.5" cy="524.8" rx="0.8" ry="2.9" transform="rotate(-12 542.5 524.8)"/><ellipse cx="533.6" cy="498.5" rx="0.8" ry="1.6" transform="rotate(13 533.6 498.5)"/><ellipse cx="589.5" cy="511.4" rx="0.6" ry="3.3" transform="rotate(-13 589.5 511.4)"/><ellipse cx="611.7" cy="471.7" rx="0.7" ry="2.6" transform="rotate(13 611.7 471.7)"/><ellipse cx="554.0" cy="434.7" rx="0.8" ry="1.9" transform="rotate(-12 554.0 434.7)"/><ellipse cx="543.7" cy="425.7" rx="0.6" ry="2.1" transform="rotate(-6 543.7 425.7)"/><ellipse cx="601.7" cy="453.1" rx="0.8" ry="1.8" transform="rotate(-5 601.7 453.1)"/><ellipse cx="529.8" cy="448.6" rx="0.5" ry="3.0" transform="rotate(2 529.8 448.6)"/><ellipse cx="546.4" cy="474.1" rx="1.1" ry="1.6" transform="rotate(10 546.4 474.1)"/><ellipse cx="569.9" cy="476.4" rx="1.0" ry="2.3" transform="rotate(0 569.9 476.4)"/><ellipse cx="594.7" cy="532.0" rx="0.7" ry="3.2" transform="rotate(6 594.7 532.0)"/><ellipse cx="589.7" cy="466.1" rx="0.7" ry="1.5" transform="rotate(-11 589.7 466.1)"/><ellipse cx="534.9" cy="504.5" rx="0.7" ry="1.8" transform="rotate(-12 534.9 504.5)"/><ellipse cx="609.6" cy="519.2" rx="0.9" ry="2.0" transform="rotate(-8 609.6 519.2)"/><ellipse cx="556.4" cy="472.4" rx="0.6" ry="2.4" transform="rotate(-7 556.4 472.4)"/><ellipse cx="621.3" cy="530.9" rx="0.8" ry="1.9" transform="rotate(14 621.3 530.9)"/><ellipse cx="558.0" cy="460.7" rx="0.5" ry="2.2" transform="rotate(-1 558.0 460.7)"/><ellipse cx="576.8" cy="442.9" rx="0.8" ry="1.4" transform="rotate(-7 576.8 442.9)"/><ellipse cx="536.7" cy="465.5" rx="0.5" ry="1.4" transform="rotate(-6 536.7 465.5)"/><ellipse cx="550.6" cy="486.8" rx="0.8" ry="3.1" transform="rotate(5 550.6 486.8)"/><ellipse cx="597.5" cy="520.2" rx="0.7" ry="2.1" transform="rotate(15 597.5 520.2)"/><ellipse cx="542.5" cy="502.6" rx="0.9" ry="1.5" transform="rotate(10 542.5 502.6)"/><ellipse cx="614.5" cy="491.5" rx="0.9" ry="3.2" transform="rotate(-11 614.5 491.5)"/><ellipse cx="578.8" cy="477.5" rx="1.0" ry="3.2" transform="rotate(10 578.8 477.5)"/><ellipse cx="584.7" cy="521.8" rx="0.9" ry="2.9" transform="rotate(-8 584.7 521.8)"/><ellipse cx="531.0" cy="435.2" rx="0.7" ry="1.6" transform="rotate(10 531.0 435.2)"/><ellipse cx="582.2" cy="491.6" rx="0.9" ry="2.9" transform="rotate(-0 582.2 491.6)"/><ellipse cx="528.3" cy="510.9" rx="0.9" ry="2.5" transform="rotate(1 528.3 510.9)"/><ellipse cx="592.0" cy="427.5" rx="0.9" ry="2.0" transform="rotate(-13 592.0 427.5)"/><ellipse cx="553.8" cy="503.1" rx="0.6" ry="3.0" transform="rotate(14 553.8 503.1)"/><ellipse cx="575.9" cy="463.6" rx="0.8" ry="2.9" transform="rotate(8 575.9 463.6)"/><ellipse cx="587.8" cy="493.3" rx="0.5" ry="1.7" transform="rotate(-7 587.8 493.3)"/><ellipse cx="600.1" cy="454.7" rx="0.8" ry="1.4" transform="rotate(-13 600.1 454.7)"/><ellipse cx="554.1" cy="496.6" rx="0.9" ry="2.9" transform="rotate(-6 554.1 496.6)"/><ellipse cx="578.1" cy="473.0" rx="0.8" ry="1.7" transform="rotate(12 578.1 473.0)"/><ellipse cx="547.3" cy="531.5" rx="1.1" ry="1.4" transform="rotate(-1 547.3 531.5)"/><ellipse cx="607.5" cy="530.4" rx="0.8" ry="2.0" transform="rotate(-9 607.5 530.4)"/><ellipse cx="619.7" cy="444.0" rx="0.8" ry="1.7" transform="rotate(1 619.7 444.0)"/><ellipse cx="620.4" cy="435.1" rx="1.0" ry="2.5" transform="rotate(12 620.4 435.1)"/><ellipse cx="596.2" cy="446.4" rx="1.0" ry="2.5" transform="rotate(-14 596.2 446.4)"/><ellipse cx="528.3" cy="476.1" rx="0.8" ry="2.1" transform="rotate(-11 528.3 476.1)"/><ellipse cx="561.4" cy="456.0" rx="1.0" ry="1.4" transform="rotate(8 561.4 456.0)"/><ellipse cx="609.4" cy="433.7" rx="1.1" ry="3.0" transform="rotate(12 609.4 433.7)"/><ellipse cx="556.1" cy="462.4" rx="0.7" ry="3.6" transform="rotate(3 556.1 462.4)"/><ellipse cx="563.0" cy="468.8" rx="0.7" ry="1.5" transform="rotate(-12 563.0 468.8)"/><ellipse cx="609.0" cy="452.6" rx="1.1" ry="1.9" transform="rotate(-7 609.0 452.6)"/><ellipse cx="577.6" cy="441.6" rx="0.7" ry="3.5" transform="rotate(12 577.6 441.6)"/><ellipse cx="606.8" cy="491.9" rx="1.0" ry="3.5" transform="rotate(1 606.8 491.9)"/><ellipse cx="597.8" cy="425.6" rx="0.9" ry="2.4" transform="rotate(8 597.8 425.6)"/><ellipse cx="590.5" cy="452.6" rx="0.5" ry="3.4" transform="rotate(-11 590.5 452.6)"/><ellipse cx="573.8" cy="459.2" rx="0.7" ry="3.0" transform="rotate(14 573.8 459.2)"/><ellipse cx="553.2" cy="494.8" rx="0.7" ry="2.6" transform="rotate(-3 553.2 494.8)"/><ellipse cx="544.2" cy="438.4" rx="0.6" ry="3.4" transform="rotate(-0 544.2 438.4)"/><ellipse cx="549.3" cy="523.3" rx="1.1" ry="2.4" transform="rotate(-11 549.3 523.3)"/><ellipse cx="546.7" cy="430.3" rx="0.7" ry="1.6" transform="rotate(-8 546.7 430.3)"/><ellipse cx="553.1" cy="484.9" rx="1.0" ry="3.0" transform="rotate(-3 553.1 484.9)"/><ellipse cx="568.1" cy="479.8" rx="0.7" ry="2.1" transform="rotate(-13 568.1 479.8)"/><ellipse cx="554.9" cy="530.3" rx="0.6" ry="2.5" transform="rotate(4 554.9 530.3)"/><ellipse cx="611.7" cy="444.6" rx="0.7" ry="1.9" transform="rotate(-3 611.7 444.6)"/><ellipse cx="571.2" cy="528.7" rx="1.0" ry="3.3" transform="rotate(-14 571.2 528.7)"/><ellipse cx="531.1" cy="500.9" rx="1.0" ry="2.4" transform="rotate(3 531.1 500.9)"/><ellipse cx="528.0" cy="464.6" rx="1.1" ry="3.2" transform="rotate(11 528.0 464.6)"/><ellipse cx="622.3" cy="448.3" rx="0.6" ry="1.7" transform="rotate(1 622.3 448.3)"/><ellipse cx="594.2" cy="527.3" rx="0.9" ry="2.8" transform="rotate(8 594.2 527.3)"/><ellipse cx="572.4" cy="482.9" rx="0.5" ry="3.1" transform="rotate(-8 572.4 482.9)"/><ellipse cx="617.2" cy="493.6" rx="0.7" ry="1.7" transform="rotate(-7 617.2 493.6)"/><ellipse cx="589.7" cy="499.6" rx="0.6" ry="1.6" transform="rotate(1 589.7 499.6)"/><ellipse cx="584.5" cy="464.2" rx="0.6" ry="2.7" transform="rotate(-15 584.5 464.2)"/><ellipse cx="557.2" cy="472.5" rx="1.1" ry="2.8" transform="rotate(12 557.2 472.5)"/><ellipse cx="574.1" cy="446.8" rx="0.6" ry="3.5" transform="rotate(6 574.1 446.8)"/><ellipse cx="557.8" cy="422.5" rx="0.8" ry="2.9" transform="rotate(-2 557.8 422.5)"/><ellipse cx="553.0" cy="496.1" rx="1.1" ry="1.9" transform="rotate(-14 553.0 496.1)"/><ellipse cx="560.8" cy="467.9" rx="0.9" ry="1.8" transform="rotate(9 560.8 467.9)"/><ellipse cx="599.7" cy="477.6" rx="0.6" ry="3.5" transform="rotate(-6 599.7 477.6)"/><ellipse cx="607.5" cy="446.3" rx="0.6" ry="3.1" transform="rotate(-6 607.5 446.3)"/><ellipse cx="620.3" cy="476.5" rx="0.6" ry="1.9" transform="rotate(-2 620.3 476.5)"/><ellipse cx="592.5" cy="528.2" rx="0.6" ry="2.3" transform="rotate(-9 592.5 528.2)"/><ellipse cx="622.5" cy="436.2" rx="0.5" ry="1.5" transform="rotate(-3 622.5 436.2)"/><ellipse cx="615.1" cy="520.7" rx="0.9" ry="3.6" transform="rotate(13 615.1 520.7)"/><ellipse cx="559.9" cy="441.1" rx="1.1" ry="3.0" transform="rotate(-14 559.9 441.1)"/><ellipse cx="592.4" cy="463.2" rx="0.7" ry="2.1" transform="rotate(-10 592.4 463.2)"/><ellipse cx="528.3" cy="451.9" rx="0.7" ry="3.5" transform="rotate(-11 528.3 451.9)"/><ellipse cx="621.5" cy="443.6" rx="0.7" ry="3.2" transform="rotate(10 621.5 443.6)"/><ellipse cx="569.9" cy="425.6" rx="0.8" ry="2.2" transform="rotate(13 569.9 425.6)"/><ellipse cx="546.7" cy="461.5" rx="1.0" ry="1.5" transform="rotate(-3 546.7 461.5)"/><ellipse cx="606.7" cy="507.4" rx="0.5" ry="1.5" transform="rotate(-13 606.7 507.4)"/><ellipse cx="617.2" cy="449.3" rx="0.9" ry="3.4" transform="rotate(-5 617.2 449.3)"/><ellipse cx="554.4" cy="529.2" rx="0.9" ry="2.0" transform="rotate(6 554.4 529.2)"/><ellipse cx="558.7" cy="451.4" rx="0.5" ry="3.1" transform="rotate(12 558.7 451.4)"/><ellipse cx="589.5" cy="527.5" rx="0.5" ry="1.9" transform="rotate(-1 589.5 527.5)"/><ellipse cx="620.8" cy="528.7" rx="0.7" ry="2.0" transform="rotate(-2 620.8 528.7)"/><ellipse cx="575.9" cy="525.8" rx="0.6" ry="3.2" transform="rotate(7 575.9 525.8)"/><ellipse cx="607.8" cy="508.1" rx="0.9" ry="2.1" transform="rotate(-5 607.8 508.1)"/><ellipse cx="563.1" cy="509.2" rx="0.5" ry="1.8" transform="rotate(8 563.1 509.2)"/><ellipse cx="552.0" cy="427.4" rx="0.5" ry="2.6" transform="rotate(-5 552.0 427.4)"/><ellipse cx="623.1" cy="520.7" rx="1.1" ry="2.0" transform="rotate(-12 623.1 520.7)"/><ellipse cx="537.4" cy="476.8" rx="0.9" ry="2.4" transform="rotate(-8 537.4 476.8)"/><ellipse cx="568.4" cy="490.7" rx="0.9" ry="3.0" transform="rotate(10 568.4 490.7)"/><ellipse cx="592.4" cy="433.8" rx="1.0" ry="2.0" transform="rotate(2 592.4 433.8)"/><ellipse cx="564.2" cy="504.1" rx="0.6" ry="1.9" transform="rotate(-8 564.2 504.1)"/><ellipse cx="542.9" cy="520.8" rx="0.8" ry="2.1" transform="rotate(-3 542.9 520.8)"/><ellipse cx="624.3" cy="477.8" rx="0.6" ry="3.2" transform="rotate(5 624.3 477.8)"/><ellipse cx="624.1" cy="431.7" rx="0.8" ry="3.2" transform="rotate(10 624.1 431.7)"/><ellipse cx="616.7" cy="424.6" rx="0.7" ry="1.7" transform="rotate(-9 616.7 424.6)"/><ellipse cx="622.4" cy="486.5" rx="1.1" ry="2.2" transform="rotate(11 622.4 486.5)"/><ellipse cx="571.6" cy="449.6" rx="1.0" ry="3.5" transform="rotate(-12 571.6 449.6)"/><ellipse cx="585.8" cy="490.7" rx="0.6" ry="2.2" transform="rotate(-11 585.8 490.7)"/><ellipse cx="547.8" cy="449.1" rx="0.9" ry="2.8" transform="rotate(-9 547.8 449.1)"/><ellipse cx="529.1" cy="457.3" rx="0.9" ry="1.8" transform="rotate(-6 529.1 457.3)"/><ellipse cx="547.7" cy="510.7" rx="0.8" ry="1.5" transform="rotate(-12 547.7 510.7)"/><ellipse cx="566.3" cy="482.7" rx="0.9" ry="1.6" transform="rotate(-10 566.3 482.7)"/><ellipse cx="595.5" cy="466.7" rx="0.7" ry="2.1" transform="rotate(14 595.5 466.7)"/><ellipse cx="558.3" cy="484.6" rx="0.7" ry="2.3" transform="rotate(11 558.3 484.6)"/><ellipse cx="624.7" cy="461.5" rx="0.6" ry="3.0" transform="rotate(-9 624.7 461.5)"/><ellipse cx="528.6" cy="522.8" rx="0.8" ry="3.2" transform="rotate(-3 528.6 522.8)"/><ellipse cx="613.6" cy="472.5" rx="0.6" ry="1.4" transform="rotate(2 613.6 472.5)"/><ellipse cx="590.1" cy="523.7" rx="0.6" ry="2.8" transform="rotate(-4 590.1 523.7)"/><ellipse cx="576.9" cy="436.6" rx="0.7" ry="2.5" transform="rotate(13 576.9 436.6)"/><ellipse cx="538.6" cy="475.9" rx="1.0" ry="3.5" transform="rotate(-9 538.6 475.9)"/><ellipse cx="540.3" cy="527.5" rx="1.1" ry="2.5" transform="rotate(-13 540.3 527.5)"/><ellipse cx="617.8" cy="464.2" rx="1.0" ry="2.8" transform="rotate(10 617.8 464.2)"/><ellipse cx="543.5" cy="509.6" rx="0.6" ry="2.3" transform="rotate(10 543.5 509.6)"/><ellipse cx="608.4" cy="440.9" rx="0.6" ry="2.3" transform="rotate(1 608.4 440.9)"/><ellipse cx="565.2" cy="434.0" rx="0.6" ry="3.0" transform="rotate(12 565.2 434.0)"/><ellipse cx="532.0" cy="484.1" rx="1.0" ry="1.5" transform="rotate(10 532.0 484.1)"/><ellipse cx="539.4" cy="488.3" rx="0.8" ry="2.8" transform="rotate(-6 539.4 488.3)"/><ellipse cx="568.7" cy="486.4" rx="0.8" ry="2.8" transform="rotate(-2 568.7 486.4)"/><ellipse cx="570.5" cy="422.7" rx="0.9" ry="2.5" transform="rotate(-8 570.5 422.7)"/><ellipse cx="602.1" cy="508.9" rx="0.8" ry="1.8" transform="rotate(-1 602.1 508.9)"/><ellipse cx="538.4" cy="434.6" rx="0.8" ry="1.6" transform="rotate(-2 538.4 434.6)"/><ellipse cx="577.5" cy="424.6" rx="0.9" ry="1.6" transform="rotate(7 577.5 424.6)"/><ellipse cx="603.4" cy="478.3" rx="0.5" ry="2.5" transform="rotate(-4 603.4 478.3)"/><ellipse cx="620.2" cy="435.5" rx="1.0" ry="3.6" transform="rotate(7 620.2 435.5)"/><ellipse cx="607.1" cy="442.1" rx="1.1" ry="2.5" transform="rotate(14 607.1 442.1)"/><ellipse cx="616.9" cy="438.8" rx="1.0" ry="3.4" transform="rotate(-13 616.9 438.8)"/><ellipse cx="562.0" cy="506.2" rx="0.6" ry="3.4" transform="rotate(-7 562.0 506.2)"/><ellipse cx="607.1" cy="436.4" rx="0.8" ry="3.4" transform="rotate(-9 607.1 436.4)"/><ellipse cx="553.5" cy="477.7" rx="0.7" ry="1.5" transform="rotate(-10 553.5 477.7)"/><ellipse cx="543.6" cy="526.8" rx="0.9" ry="3.4" transform="rotate(-10 543.6 526.8)"/><ellipse cx="604.1" cy="433.1" rx="0.8" ry="2.8" transform="rotate(-4 604.1 433.1)"/><ellipse cx="612.7" cy="483.3" rx="0.8" ry="3.3" transform="rotate(-12 612.7 483.3)"/><ellipse cx="624.3" cy="491.8" rx="0.7" ry="3.2" transform="rotate(-7 624.3 491.8)"/><ellipse cx="624.1" cy="485.8" rx="0.7" ry="3.1" transform="rotate(-2 624.1 485.8)"/><ellipse cx="545.1" cy="504.8" rx="0.5" ry="3.2" transform="rotate(-7 545.1 504.8)"/><ellipse cx="590.0" cy="532.2" rx="0.9" ry="2.9" transform="rotate(-6 590.0 532.2)"/><ellipse cx="528.2" cy="423.9" rx="0.6" ry="2.8" transform="rotate(-2 528.2 423.9)"/><ellipse cx="577.7" cy="522.1" rx="0.6" ry="1.9" transform="rotate(5 577.7 522.1)"/><ellipse cx="530.2" cy="420.3" rx="0.7" ry="1.6" transform="rotate(-4 530.2 420.3)"/><ellipse cx="549.8" cy="486.5" rx="0.9" ry="1.8" transform="rotate(4 549.8 486.5)"/><ellipse cx="574.1" cy="435.4" rx="1.1" ry="1.9" transform="rotate(-11 574.1 435.4)"/><ellipse cx="537.3" cy="492.8" rx="1.0" ry="3.1" transform="rotate(-3 537.3 492.8)"/><ellipse cx="553.6" cy="421.3" rx="0.9" ry="2.6" transform="rotate(-4 553.6 421.3)"/><ellipse cx="590.6" cy="470.6" rx="1.1" ry="3.0" transform="rotate(-8 590.6 470.6)"/><ellipse cx="615.6" cy="425.0" rx="0.8" ry="2.3" transform="rotate(-8 615.6 425.0)"/><ellipse cx="533.7" cy="508.8" rx="0.5" ry="2.6" transform="rotate(13 533.7 508.8)"/><ellipse cx="541.8" cy="442.7" rx="0.9" ry="2.5" transform="rotate(4 541.8 442.7)"/><ellipse cx="606.9" cy="439.9" rx="0.7" ry="2.1" transform="rotate(-14 606.9 439.9)"/><ellipse cx="614.3" cy="509.3" rx="0.9" ry="1.4" transform="rotate(10 614.3 509.3)"/><ellipse cx="600.3" cy="473.0" rx="0.9" ry="2.4" transform="rotate(-8 600.3 473.0)"/><ellipse cx="538.2" cy="446.5" rx="0.5" ry="2.1" transform="rotate(7 538.2 446.5)"/><ellipse cx="595.4" cy="516.4" rx="0.9" ry="2.0" transform="rotate(2 595.4 516.4)"/><ellipse cx="570.3" cy="509.9" rx="0.8" ry="2.0" transform="rotate(4 570.3 509.9)"/><ellipse cx="621.6" cy="444.7" rx="1.0" ry="1.4" transform="rotate(-7 621.6 444.7)"/><ellipse cx="550.9" cy="504.8" rx="1.1" ry="3.0" transform="rotate(-5 550.9 504.8)"/><ellipse cx="613.4" cy="457.5" rx="0.6" ry="3.4" transform="rotate(4 613.4 457.5)"/><ellipse cx="595.2" cy="495.8" rx="1.1" ry="2.4" transform="rotate(10 595.2 495.8)"/><ellipse cx="595.7" cy="517.8" rx="0.8" ry="3.0" transform="rotate(2 595.7 517.8)"/><ellipse cx="557.9" cy="444.2" rx="0.9" ry="1.6" transform="rotate(12 557.9 444.2)"/><ellipse cx="542.0" cy="423.1" rx="0.6" ry="3.4" transform="rotate(-5 542.0 423.1)"/><ellipse cx="541.8" cy="423.3" rx="0.5" ry="2.9" transform="rotate(4 541.8 423.3)"/><ellipse cx="595.6" cy="504.0" rx="0.5" ry="2.7" transform="rotate(-4 595.6 504.0)"/><ellipse cx="607.3" cy="513.4" rx="1.0" ry="1.5" transform="rotate(11 607.3 513.4)"/><ellipse cx="616.7" cy="527.7" rx="0.6" ry="1.9" transform="rotate(-12 616.7 527.7)"/><ellipse cx="531.3" cy="516.6" rx="1.0" ry="2.8" transform="rotate(10 531.3 516.6)"/><ellipse cx="589.3" cy="452.8" rx="0.6" ry="1.6" transform="rotate(8 589.3 452.8)"/><ellipse cx="547.9" cy="456.4" rx="0.8" ry="1.4" transform="rotate(-7 547.9 456.4)"/><ellipse cx="555.4" cy="501.6" rx="0.7" ry="2.1" transform="rotate(14 555.4 501.6)"/><ellipse cx="576.9" cy="517.1" rx="0.9" ry="1.5" transform="rotate(-3 576.9 517.1)"/><ellipse cx="570.3" cy="508.1" rx="0.7" ry="3.0" transform="rotate(1 570.3 508.1)"/><ellipse cx="549.0" cy="518.3" rx="0.6" ry="3.2" transform="rotate(-10 549.0 518.3)"/><ellipse cx="528.1" cy="443.0" rx="1.0" ry="3.6" transform="rotate(-15 528.1 443.0)"/><ellipse cx="575.6" cy="476.0" rx="1.0" ry="1.8" transform="rotate(-0 575.6 476.0)"/><ellipse cx="561.7" cy="514.8" rx="0.7" ry="3.5" transform="rotate(-6 561.7 514.8)"/><ellipse cx="548.8" cy="499.7" rx="0.8" ry="1.6" transform="rotate(4 548.8 499.7)"/><ellipse cx="535.8" cy="509.8" rx="0.9" ry="3.1" transform="rotate(4 535.8 509.8)"/><ellipse cx="562.5" cy="465.7" rx="0.7" ry="3.4" transform="rotate(-12 562.5 465.7)"/><ellipse cx="614.2" cy="422.9" rx="0.6" ry="2.0" transform="rotate(12 614.2 422.9)"/><ellipse cx="576.6" cy="463.2" rx="1.0" ry="1.9" transform="rotate(-1 576.6 463.2)"/><ellipse cx="579.6" cy="506.0" rx="1.0" ry="2.8" transform="rotate(-5 579.6 506.0)"/><ellipse cx="559.7" cy="437.7" rx="1.0" ry="2.9" transform="rotate(7 559.7 437.7)"/><ellipse cx="544.4" cy="470.0" rx="1.0" ry="2.7" transform="rotate(-11 544.4 470.0)"/><ellipse cx="572.8" cy="520.9" rx="0.6" ry="1.8" transform="rotate(-6 572.8 520.9)"/><ellipse cx="596.2" cy="516.2" rx="0.6" ry="1.7" transform="rotate(-8 596.2 516.2)"/><ellipse cx="559.7" cy="479.5" rx="0.6" ry="2.1" transform="rotate(-9 559.7 479.5)"/><ellipse cx="622.6" cy="503.1" rx="0.6" ry="3.5" transform="rotate(-12 622.6 503.1)"/><ellipse cx="565.3" cy="532.2" rx="1.0" ry="3.0" transform="rotate(-2 565.3 532.2)"/><ellipse cx="547.0" cy="492.7" rx="0.6" ry="1.9" transform="rotate(-3 547.0 492.7)"/><ellipse cx="531.3" cy="465.5" rx="1.0" ry="2.9" transform="rotate(0 531.3 465.5)"/><ellipse cx="589.3" cy="472.8" rx="0.6" ry="2.7" transform="rotate(-3 589.3 472.8)"/><ellipse cx="599.9" cy="523.5" rx="0.8" ry="2.7" transform="rotate(7 599.9 523.5)"/><ellipse cx="568.9" cy="446.1" rx="0.9" ry="3.3" transform="rotate(8 568.9 446.1)"/><ellipse cx="595.9" cy="517.2" rx="0.9" ry="2.8" transform="rotate(-1 595.9 517.2)"/><ellipse cx="558.4" cy="491.6" rx="0.6" ry="2.3" transform="rotate(8 558.4 491.6)"/><ellipse cx="597.2" cy="491.8" rx="0.7" ry="2.3" transform="rotate(-1 597.2 491.8)"/><ellipse cx="588.3" cy="466.7" rx="0.9" ry="3.4" transform="rotate(-10 588.3 466.7)"/><ellipse cx="591.5" cy="508.7" rx="0.7" ry="2.5" transform="rotate(14 591.5 508.7)"/><ellipse cx="531.7" cy="481.9" rx="0.6" ry="3.1" transform="rotate(13 531.7 481.9)"/><ellipse cx="578.4" cy="431.5" rx="0.8" ry="2.6" transform="rotate(7 578.4 431.5)"/><ellipse cx="577.7" cy="492.9" rx="1.0" ry="2.5" transform="rotate(-3 577.7 492.9)"/><ellipse cx="620.0" cy="444.0" rx="0.9" ry="2.3" transform="rotate(8 620.0 444.0)"/><ellipse cx="539.9" cy="532.2" rx="0.7" ry="1.5" transform="rotate(-7 539.9 532.2)"/><ellipse cx="566.8" cy="421.5" rx="0.8" ry="2.3" transform="rotate(6 566.8 421.5)"/><ellipse cx="562.2" cy="450.2" rx="0.6" ry="3.0" transform="rotate(13 562.2 450.2)"/><ellipse cx="579.1" cy="445.0" rx="1.0" ry="2.3" transform="rotate(-9 579.1 445.0)"/><ellipse cx="540.5" cy="508.5" rx="1.0" ry="2.8" transform="rotate(-1 540.5 508.5)"/><ellipse cx="582.5" cy="445.8" rx="1.1" ry="2.2" transform="rotate(4 582.5 445.8)"/><ellipse cx="607.4" cy="513.0" rx="0.8" ry="2.0" transform="rotate(1 607.4 513.0)"/><ellipse cx="540.1" cy="515.0" rx="0.7" ry="3.3" transform="rotate(-7 540.1 515.0)"/><ellipse cx="564.5" cy="448.9" rx="0.8" ry="1.8" transform="rotate(-15 564.5 448.9)"/><ellipse cx="598.0" cy="452.1" rx="0.6" ry="2.1" transform="rotate(-1 598.0 452.1)"/><ellipse cx="569.6" cy="492.7" rx="0.9" ry="2.2" transform="rotate(13 569.6 492.7)"/><ellipse cx="610.9" cy="426.5" rx="1.0" ry="3.4" transform="rotate(9 610.9 426.5)"/><ellipse cx="541.6" cy="514.8" rx="0.9" ry="1.4" transform="rotate(-15 541.6 514.8)"/><ellipse cx="620.3" cy="494.8" rx="0.7" ry="1.6" transform="rotate(-11 620.3 494.8)"/><ellipse cx="550.7" cy="508.5" rx="0.7" ry="1.7" transform="rotate(12 550.7 508.5)"/><ellipse cx="604.8" cy="439.1" rx="1.0" ry="2.7" transform="rotate(8 604.8 439.1)"/><ellipse cx="592.8" cy="521.9" rx="1.0" ry="3.2" transform="rotate(-9 592.8 521.9)"/><ellipse cx="595.2" cy="480.5" rx="0.9" ry="2.4" transform="rotate(11 595.2 480.5)"/><ellipse cx="581.8" cy="450.2" rx="0.6" ry="1.7" transform="rotate(-0 581.8 450.2)"/><ellipse cx="533.7" cy="473.2" rx="0.6" ry="2.5" transform="rotate(-0 533.7 473.2)"/><ellipse cx="580.3" cy="518.4" rx="0.5" ry="3.2" transform="rotate(-1 580.3 518.4)"/><ellipse cx="582.6" cy="495.8" rx="1.0" ry="2.2" transform="rotate(-2 582.6 495.8)"/></g><g fill="#a83a36" opacity="0.60"><ellipse cx="621.2" cy="428.6" rx="1.2" ry="2.7" transform="rotate(-19 621.2 428.6)"/><ellipse cx="587.1" cy="497.8" rx="1.4" ry="2.1" transform="rotate(19 587.1 497.8)"/><ellipse cx="577.5" cy="475.3" rx="1.4" ry="1.5" transform="rotate(9 577.5 475.3)"/><ellipse cx="588.7" cy="458.6" rx="1.4" ry="2.1" transform="rotate(-1 588.7 458.6)"/><ellipse cx="579.0" cy="507.8" rx="0.9" ry="2.3" transform="rotate(-3 579.0 507.8)"/><ellipse cx="581.7" cy="514.2" rx="0.9" ry="3.1" transform="rotate(-4 581.7 514.2)"/><ellipse cx="576.9" cy="451.0" rx="1.1" ry="3.3" transform="rotate(6 576.9 451.0)"/><ellipse cx="604.8" cy="457.7" rx="1.0" ry="2.0" transform="rotate(3 604.8 457.7)"/><ellipse cx="589.6" cy="509.4" rx="0.7" ry="2.8" transform="rotate(15 589.6 509.4)"/><ellipse cx="580.9" cy="425.7" rx="0.9" ry="1.4" transform="rotate(-12 580.9 425.7)"/><ellipse cx="617.4" cy="489.4" rx="1.2" ry="3.0" transform="rotate(16 617.4 489.4)"/><ellipse cx="587.3" cy="490.3" rx="1.2" ry="2.8" transform="rotate(4 587.3 490.3)"/><ellipse cx="594.1" cy="444.2" rx="1.2" ry="2.3" transform="rotate(11 594.1 444.2)"/><ellipse cx="537.8" cy="440.7" rx="0.7" ry="2.9" transform="rotate(17 537.8 440.7)"/><ellipse cx="591.6" cy="462.1" rx="1.4" ry="3.0" transform="rotate(2 591.6 462.1)"/><ellipse cx="553.0" cy="454.4" rx="1.0" ry="2.0" transform="rotate(-3 553.0 454.4)"/><ellipse cx="590.3" cy="526.5" rx="0.7" ry="2.5" transform="rotate(-18 590.3 526.5)"/><ellipse cx="539.5" cy="512.4" rx="1.2" ry="3.2" transform="rotate(-2 539.5 512.4)"/><ellipse cx="529.4" cy="464.1" rx="1.2" ry="3.3" transform="rotate(19 529.4 464.1)"/><ellipse cx="574.1" cy="467.0" rx="0.8" ry="2.7" transform="rotate(-12 574.1 467.0)"/><ellipse cx="542.7" cy="421.8" rx="0.7" ry="2.8" transform="rotate(-15 542.7 421.8)"/><ellipse cx="621.7" cy="430.0" rx="1.4" ry="1.7" transform="rotate(-19 621.7 430.0)"/><ellipse cx="597.8" cy="447.6" rx="1.3" ry="1.8" transform="rotate(-18 597.8 447.6)"/><ellipse cx="603.1" cy="501.3" rx="1.4" ry="2.9" transform="rotate(-17 603.1 501.3)"/><ellipse cx="589.0" cy="500.9" rx="1.1" ry="3.3" transform="rotate(-10 589.0 500.9)"/><ellipse cx="621.5" cy="501.8" rx="0.7" ry="1.4" transform="rotate(6 621.5 501.8)"/><ellipse cx="607.3" cy="429.1" rx="0.9" ry="2.9" transform="rotate(-13 607.3 429.1)"/><ellipse cx="611.5" cy="475.4" rx="0.7" ry="2.1" transform="rotate(3 611.5 475.4)"/><ellipse cx="570.6" cy="497.2" rx="0.8" ry="3.0" transform="rotate(-5 570.6 497.2)"/><ellipse cx="590.6" cy="491.8" rx="1.0" ry="2.2" transform="rotate(11 590.6 491.8)"/><ellipse cx="619.7" cy="509.4" rx="1.2" ry="2.0" transform="rotate(-18 619.7 509.4)"/><ellipse cx="622.5" cy="500.2" rx="1.4" ry="2.1" transform="rotate(4 622.5 500.2)"/><ellipse cx="622.8" cy="514.8" rx="1.2" ry="2.0" transform="rotate(-3 622.8 514.8)"/><ellipse cx="614.1" cy="462.9" rx="1.2" ry="2.6" transform="rotate(16 614.1 462.9)"/><ellipse cx="606.3" cy="452.3" rx="0.7" ry="1.9" transform="rotate(-3 606.3 452.3)"/><ellipse cx="584.9" cy="513.0" rx="1.4" ry="1.5" transform="rotate(13 584.9 513.0)"/><ellipse cx="606.7" cy="518.9" rx="1.2" ry="1.9" transform="rotate(14 606.7 518.9)"/><ellipse cx="606.3" cy="498.0" rx="1.4" ry="2.1" transform="rotate(-17 606.3 498.0)"/><ellipse cx="581.7" cy="510.9" rx="0.9" ry="2.9" transform="rotate(17 581.7 510.9)"/><ellipse cx="550.7" cy="489.2" rx="1.2" ry="2.3" transform="rotate(-12 550.7 489.2)"/><ellipse cx="552.7" cy="505.6" rx="1.3" ry="2.3" transform="rotate(-16 552.7 505.6)"/><ellipse cx="606.2" cy="508.0" rx="0.9" ry="2.6" transform="rotate(16 606.2 508.0)"/><ellipse cx="613.9" cy="479.5" rx="1.1" ry="2.6" transform="rotate(-12 613.9 479.5)"/><ellipse cx="546.7" cy="440.6" rx="1.3" ry="2.1" transform="rotate(3 546.7 440.6)"/><ellipse cx="567.0" cy="479.0" rx="0.8" ry="1.5" transform="rotate(20 567.0 479.0)"/><ellipse cx="564.3" cy="432.1" rx="1.2" ry="3.0" transform="rotate(-14 564.3 432.1)"/><ellipse cx="585.9" cy="459.3" rx="1.1" ry="1.4" transform="rotate(-19 585.9 459.3)"/><ellipse cx="624.1" cy="518.7" rx="1.1" ry="2.5" transform="rotate(-10 624.1 518.7)"/><ellipse cx="603.6" cy="468.6" rx="1.5" ry="2.9" transform="rotate(13 603.6 468.6)"/><ellipse cx="621.5" cy="449.0" rx="0.7" ry="1.8" transform="rotate(-13 621.5 449.0)"/><ellipse cx="536.1" cy="425.8" rx="1.1" ry="3.1" transform="rotate(-2 536.1 425.8)"/><ellipse cx="619.9" cy="523.7" rx="0.8" ry="2.6" transform="rotate(-4 619.9 523.7)"/><ellipse cx="539.6" cy="529.4" rx="0.9" ry="2.5" transform="rotate(6 539.6 529.4)"/><ellipse cx="620.8" cy="496.3" rx="1.0" ry="2.3" transform="rotate(-14 620.8 496.3)"/><ellipse cx="621.7" cy="533.1" rx="0.9" ry="1.5" transform="rotate(-10 621.7 533.1)"/><ellipse cx="562.1" cy="522.9" rx="1.4" ry="3.1" transform="rotate(-18 562.1 522.9)"/><ellipse cx="604.3" cy="500.9" rx="1.2" ry="3.4" transform="rotate(-18 604.3 500.9)"/><ellipse cx="542.0" cy="506.1" rx="1.5" ry="2.8" transform="rotate(-8 542.0 506.1)"/><ellipse cx="585.4" cy="506.4" rx="0.8" ry="2.0" transform="rotate(-10 585.4 506.4)"/><ellipse cx="540.0" cy="474.9" rx="0.8" ry="1.9" transform="rotate(-14 540.0 474.9)"/></g>
<rect x="528" y="420" width="97" height="115" fill="url(#gbellShade)"/>
<path d="M563,512 C566,509 572,508 580,508 C585,509 588,514 588,520 C584,527 579,531 574.5,533 C568,530 564,524 563,512 Z" fill="#c25a30" opacity="0.95"/>
<path d="M570,512 L572,531 M575,511 L576,532 M580,511 L580,530" stroke="#e08a44" stroke-width="0.9" opacity="0.8"/>
<path d="M561.8,503 C566,510 572,513.5 578.6,513.7 C585,513.5 591,510 595.5,503" fill="none" stroke="#8e3026" stroke-width="1.2" opacity="0.7"/>
<path d="M549.5,482 C549,495 547,506 541,513" fill="none" stroke="#8e3026" stroke-width="1" opacity="0.5"/>
<path d="M597,482 C598,495 601,506 606,512" fill="none" stroke="#8e3026" stroke-width="1" opacity="0.5"/>
</g></g>
<path d="M504,430 H510.2 V523 H504" fill="none" stroke="#111" stroke-width="2.4"/>
<text transform="translate(495,475.5) rotate(-90)" font-size="17.5" fill="#111" text-anchor="middle">2 cm</text>
<path d="M509,561 H516.4 V646 H509" fill="none" stroke="#222" stroke-width="1.5"/>
<text transform="translate(506.6,602.5) rotate(-90)" font-size="6.5" fill="#222" text-anchor="middle">2 cm</text>
<g filter="url(#soft)"><rect x="562.5" y="550.7" width="31.2" height="106.8" fill="none" stroke="#eeeeee" stroke-width="0.8"/>
<clipPath id="cpGL"><path id="pGL" d="M537.6,554.2 C540.5,553.6 543.5,554 546.5,555.1 C547.8,556.5 548.6,558.5 549.2,560.5 C550.5,567 551.6,573.5 552.7,580 C554,587 555.2,594 556.3,601.4 C557.3,608.5 557.9,615.5 558.1,622.8 C558,627.5 557.7,632.3 557.2,637 C556.2,640.7 555,644.2 553.6,647.7 C551.5,650.5 549,652.8 546.5,654.9 C545.3,655.4 544.2,655.7 543,655.7 C541.7,655.5 540.5,655.2 539.4,654.9 C536.5,652.8 533.8,650.3 531.4,647.7 C529,644.3 527.2,640.8 526,637 C525.2,632.8 524.9,628.7 525.1,624.6 C525.5,618.5 526.1,612.6 526.9,606.8 C528,599 529.2,591.3 530.5,583.6 C531.6,576.5 532.8,569.3 534,562.2 C535,559.2 536.2,556.5 537.6,554.2 Z"/></clipPath>
<use href="#pGL" fill="#eab844"/>
<g clip-path="url(#cpGL)"><g fill="#d2402e" opacity="0.85"><ellipse cx="548.4" cy="553.3" rx="1.5" ry="1.3" transform="rotate(-37 548.4 553.3)"/><ellipse cx="557.4" cy="575.4" rx="1.7" ry="2.4" transform="rotate(31 557.4 575.4)"/><ellipse cx="529.0" cy="599.4" rx="0.9" ry="2.5" transform="rotate(27 529.0 599.4)"/><ellipse cx="546.6" cy="599.9" rx="1.1" ry="2.3" transform="rotate(-2 546.6 599.9)"/><ellipse cx="546.6" cy="567.1" rx="1.0" ry="1.1" transform="rotate(17 546.6 567.1)"/><ellipse cx="543.9" cy="567.3" rx="1.7" ry="1.4" transform="rotate(-7 543.9 567.3)"/><ellipse cx="529.6" cy="580.7" rx="1.6" ry="1.5" transform="rotate(-27 529.6 580.7)"/><ellipse cx="541.7" cy="585.7" rx="1.7" ry="1.2" transform="rotate(38 541.7 585.7)"/><ellipse cx="526.0" cy="646.9" rx="1.5" ry="1.3" transform="rotate(-2 526.0 646.9)"/><ellipse cx="534.3" cy="579.3" rx="1.0" ry="1.6" transform="rotate(39 534.3 579.3)"/><ellipse cx="559.9" cy="650.1" rx="0.9" ry="1.5" transform="rotate(32 559.9 650.1)"/><ellipse cx="526.1" cy="629.0" rx="1.1" ry="2.6" transform="rotate(-39 526.1 629.0)"/><ellipse cx="553.1" cy="588.1" rx="0.9" ry="1.0" transform="rotate(27 553.1 588.1)"/><ellipse cx="543.0" cy="571.7" rx="1.2" ry="2.5" transform="rotate(-23 543.0 571.7)"/><ellipse cx="544.6" cy="566.6" rx="1.0" ry="2.2" transform="rotate(17 544.6 566.6)"/><ellipse cx="531.1" cy="560.4" rx="0.9" ry="2.0" transform="rotate(-0 531.1 560.4)"/><ellipse cx="533.9" cy="573.8" rx="1.4" ry="2.1" transform="rotate(25 533.9 573.8)"/><ellipse cx="545.0" cy="573.4" rx="0.9" ry="2.2" transform="rotate(-7 545.0 573.4)"/><ellipse cx="550.0" cy="557.9" rx="1.6" ry="1.5" transform="rotate(27 550.0 557.9)"/><ellipse cx="555.1" cy="604.3" rx="0.8" ry="2.5" transform="rotate(-2 555.1 604.3)"/><ellipse cx="555.4" cy="580.2" rx="1.0" ry="2.3" transform="rotate(-11 555.4 580.2)"/><ellipse cx="529.9" cy="591.3" rx="1.4" ry="1.0" transform="rotate(2 529.9 591.3)"/><ellipse cx="540.0" cy="606.7" rx="0.9" ry="2.1" transform="rotate(25 540.0 606.7)"/><ellipse cx="555.2" cy="586.0" rx="1.5" ry="1.6" transform="rotate(20 555.2 586.0)"/><ellipse cx="526.2" cy="644.5" rx="1.8" ry="1.8" transform="rotate(1 526.2 644.5)"/><ellipse cx="543.1" cy="609.0" rx="0.8" ry="2.5" transform="rotate(-22 543.1 609.0)"/><ellipse cx="530.6" cy="562.9" rx="1.1" ry="2.3" transform="rotate(-38 530.6 562.9)"/><ellipse cx="527.5" cy="626.1" rx="1.0" ry="1.0" transform="rotate(8 527.5 626.1)"/><ellipse cx="544.8" cy="607.4" rx="1.5" ry="1.2" transform="rotate(30 544.8 607.4)"/><ellipse cx="549.8" cy="556.8" rx="0.9" ry="1.8" transform="rotate(0 549.8 556.8)"/><ellipse cx="534.1" cy="564.9" rx="1.2" ry="1.2" transform="rotate(7 534.1 564.9)"/><ellipse cx="555.0" cy="567.6" rx="1.4" ry="2.2" transform="rotate(-27 555.0 567.6)"/><ellipse cx="553.7" cy="651.4" rx="1.2" ry="1.7" transform="rotate(27 553.7 651.4)"/><ellipse cx="542.9" cy="593.9" rx="1.7" ry="2.2" transform="rotate(-13 542.9 593.9)"/><ellipse cx="532.7" cy="587.5" rx="1.2" ry="2.6" transform="rotate(24 532.7 587.5)"/><ellipse cx="556.9" cy="638.4" rx="1.6" ry="1.1" transform="rotate(1 556.9 638.4)"/><ellipse cx="558.5" cy="651.0" rx="1.0" ry="1.7" transform="rotate(11 558.5 651.0)"/><ellipse cx="537.1" cy="608.3" rx="0.9" ry="1.7" transform="rotate(0 537.1 608.3)"/><ellipse cx="524.7" cy="566.8" rx="1.8" ry="2.2" transform="rotate(35 524.7 566.8)"/><ellipse cx="546.8" cy="637.8" rx="1.7" ry="2.4" transform="rotate(-37 546.8 637.8)"/><ellipse cx="547.1" cy="580.2" rx="1.5" ry="1.4" transform="rotate(3 547.1 580.2)"/><ellipse cx="557.3" cy="617.9" rx="1.1" ry="1.8" transform="rotate(-5 557.3 617.9)"/><ellipse cx="558.2" cy="582.5" rx="1.1" ry="2.0" transform="rotate(-30 558.2 582.5)"/><ellipse cx="545.4" cy="653.3" rx="1.3" ry="1.4" transform="rotate(-3 545.4 653.3)"/><ellipse cx="543.2" cy="567.7" rx="0.9" ry="1.2" transform="rotate(-17 543.2 567.7)"/><ellipse cx="538.6" cy="582.6" rx="1.0" ry="1.1" transform="rotate(4 538.6 582.6)"/><ellipse cx="554.2" cy="616.7" rx="1.4" ry="2.0" transform="rotate(-24 554.2 616.7)"/><ellipse cx="549.6" cy="600.9" rx="1.3" ry="2.0" transform="rotate(-2 549.6 600.9)"/><ellipse cx="535.2" cy="577.7" rx="1.0" ry="1.8" transform="rotate(-9 535.2 577.7)"/><ellipse cx="545.1" cy="553.3" rx="1.2" ry="2.4" transform="rotate(-21 545.1 553.3)"/><ellipse cx="544.0" cy="604.1" rx="1.1" ry="2.6" transform="rotate(-16 544.0 604.1)"/><ellipse cx="551.8" cy="568.8" rx="0.9" ry="2.4" transform="rotate(-5 551.8 568.8)"/><ellipse cx="526.2" cy="593.1" rx="1.2" ry="2.2" transform="rotate(-31 526.2 593.1)"/><ellipse cx="532.1" cy="653.7" rx="1.5" ry="1.2" transform="rotate(-13 532.1 653.7)"/><ellipse cx="536.7" cy="623.6" rx="1.4" ry="2.4" transform="rotate(26 536.7 623.6)"/><ellipse cx="542.6" cy="630.3" rx="1.5" ry="2.2" transform="rotate(-2 542.6 630.3)"/><ellipse cx="552.3" cy="627.1" rx="1.7" ry="1.2" transform="rotate(30 552.3 627.1)"/><ellipse cx="524.2" cy="633.2" rx="1.4" ry="1.8" transform="rotate(37 524.2 633.2)"/><ellipse cx="544.6" cy="596.3" rx="1.6" ry="2.4" transform="rotate(9 544.6 596.3)"/><ellipse cx="537.7" cy="599.9" rx="1.3" ry="2.2" transform="rotate(-17 537.7 599.9)"/><ellipse cx="538.1" cy="610.9" rx="1.2" ry="1.5" transform="rotate(23 538.1 610.9)"/><ellipse cx="554.6" cy="605.0" rx="1.2" ry="1.3" transform="rotate(-16 554.6 605.0)"/><ellipse cx="529.2" cy="613.0" rx="1.4" ry="1.1" transform="rotate(34 529.2 613.0)"/><ellipse cx="535.7" cy="641.4" rx="1.6" ry="2.5" transform="rotate(-24 535.7 641.4)"/><ellipse cx="539.4" cy="648.5" rx="0.8" ry="1.1" transform="rotate(5 539.4 648.5)"/><ellipse cx="541.9" cy="649.6" rx="1.6" ry="1.9" transform="rotate(40 541.9 649.6)"/><ellipse cx="542.6" cy="606.8" rx="1.5" ry="1.6" transform="rotate(-11 542.6 606.8)"/><ellipse cx="545.4" cy="589.2" rx="1.7" ry="2.1" transform="rotate(2 545.4 589.2)"/><ellipse cx="527.6" cy="591.7" rx="1.2" ry="1.9" transform="rotate(6 527.6 591.7)"/><ellipse cx="555.7" cy="654.2" rx="1.3" ry="1.7" transform="rotate(10 555.7 654.2)"/><ellipse cx="559.9" cy="588.4" rx="1.3" ry="2.3" transform="rotate(-26 559.9 588.4)"/><ellipse cx="535.5" cy="655.7" rx="1.6" ry="1.8" transform="rotate(-31 535.5 655.7)"/><ellipse cx="556.2" cy="625.1" rx="1.6" ry="2.6" transform="rotate(31 556.2 625.1)"/><ellipse cx="539.2" cy="568.6" rx="1.1" ry="1.8" transform="rotate(0 539.2 568.6)"/><ellipse cx="530.8" cy="571.3" rx="1.4" ry="2.0" transform="rotate(-12 530.8 571.3)"/><ellipse cx="559.8" cy="619.5" rx="0.8" ry="1.7" transform="rotate(23 559.8 619.5)"/><ellipse cx="535.0" cy="625.2" rx="0.8" ry="1.5" transform="rotate(27 535.0 625.2)"/><ellipse cx="545.1" cy="622.8" rx="1.0" ry="1.8" transform="rotate(4 545.1 622.8)"/><ellipse cx="533.6" cy="620.6" rx="1.3" ry="2.6" transform="rotate(6 533.6 620.6)"/><ellipse cx="538.8" cy="564.9" rx="1.0" ry="2.2" transform="rotate(-31 538.8 564.9)"/><ellipse cx="527.6" cy="570.1" rx="1.3" ry="2.3" transform="rotate(9 527.6 570.1)"/><ellipse cx="553.0" cy="558.6" rx="0.8" ry="2.2" transform="rotate(-14 553.0 558.6)"/><ellipse cx="549.8" cy="589.5" rx="1.0" ry="1.4" transform="rotate(-32 549.8 589.5)"/><ellipse cx="556.5" cy="613.7" rx="1.1" ry="1.7" transform="rotate(-9 556.5 613.7)"/><ellipse cx="526.0" cy="646.4" rx="1.4" ry="2.5" transform="rotate(-5 526.0 646.4)"/><ellipse cx="546.3" cy="578.4" rx="0.8" ry="2.5" transform="rotate(28 546.3 578.4)"/><ellipse cx="535.3" cy="647.3" rx="1.6" ry="1.5" transform="rotate(8 535.3 647.3)"/><ellipse cx="558.6" cy="604.5" rx="1.7" ry="1.4" transform="rotate(-9 558.6 604.5)"/><ellipse cx="549.9" cy="575.5" rx="1.1" ry="2.4" transform="rotate(-1 549.9 575.5)"/><ellipse cx="552.5" cy="577.8" rx="1.0" ry="1.6" transform="rotate(-25 552.5 577.8)"/><ellipse cx="559.0" cy="582.8" rx="1.4" ry="1.2" transform="rotate(3 559.0 582.8)"/><ellipse cx="537.9" cy="594.7" rx="0.9" ry="1.2" transform="rotate(26 537.9 594.7)"/><ellipse cx="536.6" cy="578.0" rx="1.0" ry="1.5" transform="rotate(-21 536.6 578.0)"/><ellipse cx="525.3" cy="622.4" rx="1.1" ry="1.2" transform="rotate(16 525.3 622.4)"/><ellipse cx="527.3" cy="580.6" rx="1.6" ry="1.2" transform="rotate(-5 527.3 580.6)"/><ellipse cx="554.1" cy="637.3" rx="1.0" ry="1.6" transform="rotate(18 554.1 637.3)"/><ellipse cx="537.6" cy="653.6" rx="1.0" ry="2.5" transform="rotate(0 537.6 653.6)"/><ellipse cx="532.2" cy="600.0" rx="0.9" ry="2.1" transform="rotate(-19 532.2 600.0)"/><ellipse cx="556.4" cy="614.3" rx="1.2" ry="1.4" transform="rotate(9 556.4 614.3)"/><ellipse cx="531.7" cy="644.5" rx="0.9" ry="1.8" transform="rotate(3 531.7 644.5)"/><ellipse cx="533.7" cy="633.8" rx="1.2" ry="2.1" transform="rotate(5 533.7 633.8)"/><ellipse cx="535.2" cy="593.3" rx="0.9" ry="1.3" transform="rotate(28 535.2 593.3)"/><ellipse cx="535.6" cy="622.3" rx="0.9" ry="1.9" transform="rotate(-11 535.6 622.3)"/><ellipse cx="542.0" cy="583.5" rx="0.9" ry="1.5" transform="rotate(-22 542.0 583.5)"/><ellipse cx="528.5" cy="628.0" rx="1.1" ry="1.6" transform="rotate(33 528.5 628.0)"/><ellipse cx="551.9" cy="645.6" rx="1.7" ry="1.2" transform="rotate(-18 551.9 645.6)"/><ellipse cx="525.1" cy="624.0" rx="1.5" ry="1.6" transform="rotate(-7 525.1 624.0)"/><ellipse cx="547.7" cy="626.1" rx="1.0" ry="2.4" transform="rotate(-12 547.7 626.1)"/><ellipse cx="546.6" cy="571.3" rx="0.9" ry="2.5" transform="rotate(19 546.6 571.3)"/><ellipse cx="549.7" cy="556.3" rx="0.8" ry="1.3" transform="rotate(-24 549.7 556.3)"/><ellipse cx="534.9" cy="592.4" rx="0.8" ry="1.5" transform="rotate(11 534.9 592.4)"/><ellipse cx="530.5" cy="641.0" rx="1.4" ry="2.1" transform="rotate(-20 530.5 641.0)"/><ellipse cx="539.7" cy="624.5" rx="1.1" ry="1.0" transform="rotate(27 539.7 624.5)"/><ellipse cx="552.0" cy="582.4" rx="0.8" ry="2.4" transform="rotate(9 552.0 582.4)"/><ellipse cx="525.7" cy="577.9" rx="0.9" ry="2.3" transform="rotate(-23 525.7 577.9)"/><ellipse cx="556.9" cy="631.4" rx="0.9" ry="2.1" transform="rotate(-9 556.9 631.4)"/><ellipse cx="550.9" cy="639.8" rx="1.1" ry="1.1" transform="rotate(36 550.9 639.8)"/><ellipse cx="539.3" cy="650.6" rx="1.5" ry="2.2" transform="rotate(26 539.3 650.6)"/><ellipse cx="546.6" cy="600.0" rx="0.9" ry="2.1" transform="rotate(-6 546.6 600.0)"/><ellipse cx="542.4" cy="650.4" rx="0.9" ry="2.2" transform="rotate(-37 542.4 650.4)"/><ellipse cx="549.3" cy="637.4" rx="1.1" ry="1.9" transform="rotate(38 549.3 637.4)"/><ellipse cx="547.0" cy="609.7" rx="1.0" ry="1.1" transform="rotate(-11 547.0 609.7)"/><ellipse cx="538.8" cy="573.3" rx="1.1" ry="1.2" transform="rotate(17 538.8 573.3)"/><ellipse cx="548.1" cy="577.2" rx="1.0" ry="1.8" transform="rotate(-4 548.1 577.2)"/><ellipse cx="557.7" cy="589.3" rx="1.1" ry="2.4" transform="rotate(-29 557.7 589.3)"/><ellipse cx="544.3" cy="587.4" rx="1.6" ry="1.9" transform="rotate(21 544.3 587.4)"/><ellipse cx="530.1" cy="622.7" rx="1.4" ry="1.7" transform="rotate(21 530.1 622.7)"/><ellipse cx="553.9" cy="564.1" rx="1.1" ry="1.6" transform="rotate(-23 553.9 564.1)"/><ellipse cx="526.2" cy="581.8" rx="1.0" ry="2.1" transform="rotate(-4 526.2 581.8)"/><ellipse cx="528.1" cy="586.4" rx="1.3" ry="1.6" transform="rotate(-27 528.1 586.4)"/><ellipse cx="526.6" cy="553.1" rx="1.8" ry="2.2" transform="rotate(-33 526.6 553.1)"/><ellipse cx="549.8" cy="655.9" rx="1.4" ry="1.2" transform="rotate(-1 549.8 655.9)"/><ellipse cx="539.6" cy="572.1" rx="1.3" ry="1.0" transform="rotate(34 539.6 572.1)"/><ellipse cx="547.2" cy="618.5" rx="1.7" ry="2.0" transform="rotate(-20 547.2 618.5)"/><ellipse cx="532.9" cy="566.7" rx="0.8" ry="2.2" transform="rotate(27 532.9 566.7)"/><ellipse cx="534.7" cy="571.7" rx="1.4" ry="2.4" transform="rotate(34 534.7 571.7)"/><ellipse cx="530.1" cy="635.2" rx="1.6" ry="2.2" transform="rotate(-14 530.1 635.2)"/><ellipse cx="530.6" cy="639.5" rx="1.1" ry="1.6" transform="rotate(4 530.6 639.5)"/><ellipse cx="537.3" cy="640.1" rx="1.0" ry="1.1" transform="rotate(5 537.3 640.1)"/><ellipse cx="546.6" cy="638.9" rx="1.5" ry="2.4" transform="rotate(36 546.6 638.9)"/><ellipse cx="541.8" cy="605.0" rx="1.0" ry="1.5" transform="rotate(6 541.8 605.0)"/><ellipse cx="526.9" cy="624.9" rx="1.0" ry="1.7" transform="rotate(38 526.9 624.9)"/><ellipse cx="527.2" cy="556.2" rx="1.2" ry="1.3" transform="rotate(18 527.2 556.2)"/><ellipse cx="524.1" cy="641.1" rx="1.7" ry="2.3" transform="rotate(-6 524.1 641.1)"/><ellipse cx="534.2" cy="622.1" rx="1.3" ry="1.7" transform="rotate(-13 534.2 622.1)"/><ellipse cx="539.8" cy="622.6" rx="1.6" ry="2.4" transform="rotate(-27 539.8 622.6)"/><ellipse cx="534.6" cy="599.0" rx="1.4" ry="1.6" transform="rotate(-24 534.6 599.0)"/><ellipse cx="527.1" cy="586.3" rx="1.3" ry="2.6" transform="rotate(33 527.1 586.3)"/><ellipse cx="555.2" cy="655.3" rx="1.8" ry="2.0" transform="rotate(25 555.2 655.3)"/><ellipse cx="526.2" cy="623.7" rx="1.4" ry="1.5" transform="rotate(6 526.2 623.7)"/><ellipse cx="558.3" cy="603.0" rx="1.4" ry="1.5" transform="rotate(-13 558.3 603.0)"/><ellipse cx="555.9" cy="555.0" rx="1.0" ry="2.1" transform="rotate(-4 555.9 555.0)"/><ellipse cx="527.1" cy="622.0" rx="1.2" ry="1.9" transform="rotate(-7 527.1 622.0)"/><ellipse cx="543.1" cy="611.9" rx="1.2" ry="1.2" transform="rotate(-26 543.1 611.9)"/><ellipse cx="556.0" cy="610.1" rx="0.9" ry="2.4" transform="rotate(-20 556.0 610.1)"/><ellipse cx="527.4" cy="608.3" rx="1.1" ry="1.8" transform="rotate(4 527.4 608.3)"/><ellipse cx="532.2" cy="612.7" rx="0.9" ry="1.8" transform="rotate(7 532.2 612.7)"/><ellipse cx="526.9" cy="595.3" rx="0.9" ry="1.7" transform="rotate(29 526.9 595.3)"/><ellipse cx="543.8" cy="627.7" rx="1.6" ry="1.2" transform="rotate(39 543.8 627.7)"/><ellipse cx="550.0" cy="562.8" rx="1.6" ry="1.6" transform="rotate(-26 550.0 562.8)"/><ellipse cx="558.6" cy="611.7" rx="1.6" ry="1.2" transform="rotate(22 558.6 611.7)"/><ellipse cx="526.1" cy="577.1" rx="1.2" ry="1.0" transform="rotate(8 526.1 577.1)"/><ellipse cx="531.7" cy="583.8" rx="1.5" ry="1.7" transform="rotate(31 531.7 583.8)"/><ellipse cx="546.4" cy="644.4" rx="1.4" ry="2.5" transform="rotate(30 546.4 644.4)"/><ellipse cx="530.0" cy="631.0" rx="1.1" ry="2.2" transform="rotate(14 530.0 631.0)"/><ellipse cx="553.7" cy="565.0" rx="1.2" ry="2.2" transform="rotate(36 553.7 565.0)"/><ellipse cx="550.0" cy="556.6" rx="1.4" ry="1.2" transform="rotate(4 550.0 556.6)"/><ellipse cx="552.9" cy="564.0" rx="1.7" ry="2.1" transform="rotate(-20 552.9 564.0)"/><ellipse cx="531.0" cy="599.4" rx="1.6" ry="1.9" transform="rotate(-31 531.0 599.4)"/><ellipse cx="524.8" cy="563.7" rx="1.6" ry="1.3" transform="rotate(4 524.8 563.7)"/><ellipse cx="534.4" cy="624.8" rx="1.2" ry="1.2" transform="rotate(30 534.4 624.8)"/><ellipse cx="543.4" cy="625.1" rx="1.6" ry="2.5" transform="rotate(-39 543.4 625.1)"/><ellipse cx="536.3" cy="568.0" rx="1.3" ry="2.4" transform="rotate(24 536.3 568.0)"/><ellipse cx="525.3" cy="571.3" rx="1.6" ry="2.1" transform="rotate(-9 525.3 571.3)"/><ellipse cx="541.1" cy="568.8" rx="1.6" ry="1.6" transform="rotate(30 541.1 568.8)"/><ellipse cx="546.0" cy="560.0" rx="1.1" ry="1.3" transform="rotate(32 546.0 560.0)"/><ellipse cx="545.2" cy="556.6" rx="1.0" ry="1.6" transform="rotate(-3 545.2 556.6)"/><ellipse cx="544.8" cy="593.1" rx="1.2" ry="1.0" transform="rotate(6 544.8 593.1)"/><ellipse cx="536.0" cy="554.2" rx="1.3" ry="2.6" transform="rotate(-36 536.0 554.2)"/><ellipse cx="529.2" cy="623.1" rx="1.1" ry="1.4" transform="rotate(0 529.2 623.1)"/><ellipse cx="533.4" cy="612.3" rx="1.3" ry="2.5" transform="rotate(39 533.4 612.3)"/><ellipse cx="525.2" cy="611.4" rx="1.6" ry="2.4" transform="rotate(22 525.2 611.4)"/><ellipse cx="546.8" cy="619.3" rx="1.2" ry="1.5" transform="rotate(24 546.8 619.3)"/><ellipse cx="555.4" cy="651.5" rx="1.5" ry="1.5" transform="rotate(21 555.4 651.5)"/><ellipse cx="550.6" cy="605.9" rx="1.4" ry="1.6" transform="rotate(4 550.6 605.9)"/><ellipse cx="538.6" cy="558.4" rx="1.1" ry="1.5" transform="rotate(39 538.6 558.4)"/><ellipse cx="541.3" cy="590.9" rx="1.0" ry="1.4" transform="rotate(-12 541.3 590.9)"/><ellipse cx="528.9" cy="552.8" rx="1.7" ry="1.7" transform="rotate(-4 528.9 552.8)"/><ellipse cx="544.5" cy="584.1" rx="1.0" ry="1.1" transform="rotate(-16 544.5 584.1)"/><ellipse cx="535.1" cy="629.0" rx="1.4" ry="2.5" transform="rotate(-13 535.1 629.0)"/><ellipse cx="557.2" cy="613.8" rx="0.9" ry="1.3" transform="rotate(6 557.2 613.8)"/><ellipse cx="559.5" cy="589.8" rx="1.6" ry="1.7" transform="rotate(29 559.5 589.8)"/><ellipse cx="526.4" cy="603.4" rx="1.7" ry="1.4" transform="rotate(-19 526.4 603.4)"/><ellipse cx="524.8" cy="569.4" rx="1.1" ry="2.1" transform="rotate(-23 524.8 569.4)"/><ellipse cx="538.4" cy="573.2" rx="1.4" ry="2.4" transform="rotate(12 538.4 573.2)"/><ellipse cx="531.1" cy="629.8" rx="1.8" ry="2.0" transform="rotate(-34 531.1 629.8)"/><ellipse cx="553.1" cy="644.8" rx="1.1" ry="1.2" transform="rotate(-25 553.1 644.8)"/><ellipse cx="543.3" cy="644.8" rx="1.4" ry="2.5" transform="rotate(-23 543.3 644.8)"/><ellipse cx="535.8" cy="631.4" rx="1.4" ry="1.6" transform="rotate(14 535.8 631.4)"/><ellipse cx="536.2" cy="558.1" rx="1.2" ry="1.1" transform="rotate(10 536.2 558.1)"/><ellipse cx="536.0" cy="604.4" rx="1.4" ry="1.4" transform="rotate(-3 536.0 604.4)"/><ellipse cx="524.5" cy="650.1" rx="1.4" ry="2.6" transform="rotate(-36 524.5 650.1)"/><ellipse cx="546.1" cy="628.8" rx="1.1" ry="1.1" transform="rotate(-28 546.1 628.8)"/><ellipse cx="529.1" cy="633.3" rx="0.9" ry="2.3" transform="rotate(-6 529.1 633.3)"/><ellipse cx="543.4" cy="614.4" rx="1.4" ry="2.1" transform="rotate(8 543.4 614.4)"/><ellipse cx="535.9" cy="630.6" rx="1.1" ry="2.1" transform="rotate(21 535.9 630.6)"/><ellipse cx="551.9" cy="584.8" rx="1.6" ry="2.6" transform="rotate(-4 551.9 584.8)"/><ellipse cx="534.0" cy="607.5" rx="1.7" ry="1.2" transform="rotate(-39 534.0 607.5)"/><ellipse cx="541.1" cy="621.5" rx="1.6" ry="1.6" transform="rotate(39 541.1 621.5)"/><ellipse cx="532.2" cy="632.2" rx="0.9" ry="1.0" transform="rotate(-29 532.2 632.2)"/><ellipse cx="526.2" cy="605.2" rx="1.4" ry="1.3" transform="rotate(35 526.2 605.2)"/><ellipse cx="537.2" cy="567.8" rx="1.0" ry="2.2" transform="rotate(34 537.2 567.8)"/><ellipse cx="529.8" cy="555.1" rx="1.6" ry="1.4" transform="rotate(39 529.8 555.1)"/><ellipse cx="542.0" cy="619.4" rx="1.1" ry="2.3" transform="rotate(-3 542.0 619.4)"/><ellipse cx="535.7" cy="647.8" rx="0.9" ry="2.2" transform="rotate(-35 535.7 647.8)"/><ellipse cx="547.2" cy="594.6" rx="1.7" ry="1.1" transform="rotate(5 547.2 594.6)"/><ellipse cx="538.8" cy="649.4" rx="1.7" ry="2.0" transform="rotate(-22 538.8 649.4)"/><ellipse cx="533.1" cy="579.8" rx="1.2" ry="1.4" transform="rotate(-24 533.1 579.8)"/><ellipse cx="551.3" cy="620.1" rx="1.1" ry="2.6" transform="rotate(-23 551.3 620.1)"/><ellipse cx="544.5" cy="568.6" rx="1.7" ry="2.4" transform="rotate(-19 544.5 568.6)"/><ellipse cx="551.1" cy="639.2" rx="1.1" ry="1.5" transform="rotate(-1 551.1 639.2)"/><ellipse cx="556.1" cy="569.1" rx="1.5" ry="2.0" transform="rotate(-4 556.1 569.1)"/><ellipse cx="544.9" cy="645.6" rx="1.0" ry="2.4" transform="rotate(-11 544.9 645.6)"/><ellipse cx="552.1" cy="643.5" rx="1.0" ry="2.4" transform="rotate(40 552.1 643.5)"/><ellipse cx="534.7" cy="554.6" rx="0.9" ry="2.6" transform="rotate(-39 534.7 554.6)"/><ellipse cx="556.8" cy="568.0" rx="1.5" ry="1.2" transform="rotate(-27 556.8 568.0)"/><ellipse cx="548.6" cy="561.6" rx="1.1" ry="2.5" transform="rotate(17 548.6 561.6)"/><ellipse cx="555.8" cy="655.8" rx="0.8" ry="1.4" transform="rotate(23 555.8 655.8)"/><ellipse cx="548.8" cy="556.0" rx="1.3" ry="1.4" transform="rotate(-6 548.8 556.0)"/><ellipse cx="527.8" cy="554.1" rx="1.8" ry="1.5" transform="rotate(30 527.8 554.1)"/><ellipse cx="528.3" cy="603.7" rx="0.9" ry="1.7" transform="rotate(-26 528.3 603.7)"/><ellipse cx="548.7" cy="567.7" rx="1.5" ry="1.8" transform="rotate(-31 548.7 567.7)"/><ellipse cx="536.7" cy="604.6" rx="1.7" ry="1.6" transform="rotate(-23 536.7 604.6)"/><ellipse cx="558.8" cy="645.6" rx="1.5" ry="1.4" transform="rotate(-26 558.8 645.6)"/><ellipse cx="533.5" cy="559.3" rx="0.8" ry="1.8" transform="rotate(-7 533.5 559.3)"/><ellipse cx="544.0" cy="590.4" rx="0.8" ry="2.1" transform="rotate(12 544.0 590.4)"/><ellipse cx="543.6" cy="610.2" rx="1.5" ry="2.6" transform="rotate(30 543.6 610.2)"/><ellipse cx="549.8" cy="594.3" rx="1.1" ry="1.7" transform="rotate(38 549.8 594.3)"/><ellipse cx="537.9" cy="592.9" rx="1.2" ry="1.2" transform="rotate(40 537.9 592.9)"/><ellipse cx="524.2" cy="616.4" rx="1.7" ry="1.4" transform="rotate(9 524.2 616.4)"/></g>
<path d="M536,556 C540,553 546,554 549,560 C546,562 540,563 535,562 Z" fill="#c8403a"/>
<rect x="524" y="553" width="36" height="104" fill="url(#gTopR)"/>
<rect x="524" y="553" width="36" height="104" fill="url(#gEdgeR)"/>
<ellipse cx="539.5" cy="588" rx="3.6" ry="20" fill="#dca024"/>
</g>
<clipPath id="cpGR"><path id="pGR" d="M608.8,553.3 C611.8,553 614.8,553.4 617.7,554.2 C619.8,556.5 621.5,559.3 623.1,562.2 C624.8,569.3 626.2,576.4 627.5,583.6 C628.6,591.3 629.5,599 630.2,606.8 C630.2,614 629.9,621 629.3,628.1 C628.3,633.6 626.8,639 624.9,644.2 C622.8,647.2 620.4,649.9 617.7,652.2 C616.5,652.7 615.4,653 614.2,653.1 C612.3,652.6 610.5,652 608.8,651.3 C606.5,648.5 604.3,645.5 602.6,642.4 C600.9,637.8 599.7,633 599,628.1 C598.3,621 598,613.9 598.1,606.8 C598.5,599 599.1,591.3 599.9,583.6 C600.8,576.4 602,569.3 603.5,562.2 C605,559 606.7,556 608.8,553.3 Z"/></clipPath>
<use href="#pGR" fill="#d64a3e"/>
<g clip-path="url(#cpGR)"><g fill="#ecc050" opacity="0.85"><ellipse cx="610.2" cy="577.0" rx="1.0" ry="1.2" transform="rotate(27 610.2 577.0)"/><ellipse cx="624.4" cy="646.5" rx="0.8" ry="2.1" transform="rotate(-14 624.4 646.5)"/><ellipse cx="619.6" cy="609.1" rx="1.1" ry="2.6" transform="rotate(-40 619.6 609.1)"/><ellipse cx="623.1" cy="640.8" rx="1.3" ry="1.9" transform="rotate(40 623.1 640.8)"/><ellipse cx="605.2" cy="617.5" rx="1.5" ry="1.6" transform="rotate(17 605.2 617.5)"/><ellipse cx="610.8" cy="606.7" rx="1.4" ry="2.1" transform="rotate(-14 610.8 606.7)"/><ellipse cx="619.0" cy="608.5" rx="1.0" ry="2.0" transform="rotate(-19 619.0 608.5)"/><ellipse cx="628.8" cy="601.2" rx="1.5" ry="1.8" transform="rotate(-2 628.8 601.2)"/><ellipse cx="604.7" cy="566.8" rx="1.7" ry="1.8" transform="rotate(2 604.7 566.8)"/><ellipse cx="615.5" cy="636.6" rx="1.0" ry="1.3" transform="rotate(26 615.5 636.6)"/><ellipse cx="613.1" cy="618.6" rx="1.6" ry="2.4" transform="rotate(29 613.1 618.6)"/><ellipse cx="598.5" cy="591.7" rx="1.6" ry="2.3" transform="rotate(-30 598.5 591.7)"/><ellipse cx="602.4" cy="578.2" rx="0.9" ry="1.6" transform="rotate(24 602.4 578.2)"/><ellipse cx="615.2" cy="599.1" rx="0.9" ry="1.6" transform="rotate(40 615.2 599.1)"/><ellipse cx="621.3" cy="598.7" rx="1.3" ry="2.3" transform="rotate(21 621.3 598.7)"/><ellipse cx="602.2" cy="622.7" rx="1.2" ry="1.8" transform="rotate(-21 602.2 622.7)"/><ellipse cx="610.0" cy="587.4" rx="1.2" ry="1.0" transform="rotate(-24 610.0 587.4)"/><ellipse cx="617.0" cy="558.0" rx="1.0" ry="2.1" transform="rotate(-18 617.0 558.0)"/><ellipse cx="608.3" cy="577.2" rx="1.6" ry="1.1" transform="rotate(11 608.3 577.2)"/><ellipse cx="627.1" cy="573.0" rx="1.2" ry="2.3" transform="rotate(9 627.1 573.0)"/><ellipse cx="610.0" cy="556.6" rx="1.2" ry="1.6" transform="rotate(17 610.0 556.6)"/><ellipse cx="607.3" cy="594.4" rx="1.4" ry="2.3" transform="rotate(-12 607.3 594.4)"/><ellipse cx="610.5" cy="612.2" rx="1.7" ry="1.3" transform="rotate(38 610.5 612.2)"/><ellipse cx="621.9" cy="590.7" rx="1.5" ry="1.5" transform="rotate(-34 621.9 590.7)"/><ellipse cx="623.5" cy="591.5" rx="1.3" ry="1.8" transform="rotate(32 623.5 591.5)"/><ellipse cx="623.5" cy="554.7" rx="1.4" ry="1.7" transform="rotate(-3 623.5 554.7)"/><ellipse cx="626.4" cy="595.1" rx="1.3" ry="2.4" transform="rotate(-5 626.4 595.1)"/><ellipse cx="614.2" cy="605.2" rx="1.6" ry="2.1" transform="rotate(19 614.2 605.2)"/><ellipse cx="611.1" cy="556.2" rx="1.5" ry="1.9" transform="rotate(22 611.1 556.2)"/><ellipse cx="623.9" cy="564.3" rx="1.0" ry="1.1" transform="rotate(25 623.9 564.3)"/><ellipse cx="600.6" cy="561.2" rx="1.6" ry="1.9" transform="rotate(-36 600.6 561.2)"/><ellipse cx="620.8" cy="626.0" rx="1.3" ry="1.1" transform="rotate(15 620.8 626.0)"/><ellipse cx="611.6" cy="612.7" rx="1.8" ry="2.3" transform="rotate(30 611.6 612.7)"/><ellipse cx="602.1" cy="586.8" rx="1.3" ry="1.0" transform="rotate(39 602.1 586.8)"/><ellipse cx="606.6" cy="579.3" rx="1.1" ry="1.4" transform="rotate(29 606.6 579.3)"/><ellipse cx="616.4" cy="605.1" rx="1.2" ry="1.1" transform="rotate(-16 616.4 605.1)"/><ellipse cx="627.3" cy="635.4" rx="1.7" ry="1.4" transform="rotate(-24 627.3 635.4)"/><ellipse cx="598.8" cy="607.8" rx="1.2" ry="1.7" transform="rotate(-1 598.8 607.8)"/><ellipse cx="617.4" cy="590.0" rx="1.6" ry="1.3" transform="rotate(34 617.4 590.0)"/><ellipse cx="616.5" cy="557.3" rx="1.1" ry="1.9" transform="rotate(-7 616.5 557.3)"/><ellipse cx="616.8" cy="585.6" rx="1.1" ry="2.3" transform="rotate(-17 616.8 585.6)"/><ellipse cx="621.9" cy="635.5" rx="1.4" ry="1.7" transform="rotate(35 621.9 635.5)"/><ellipse cx="612.6" cy="643.3" rx="0.9" ry="1.7" transform="rotate(11 612.6 643.3)"/><ellipse cx="598.7" cy="641.7" rx="0.9" ry="2.0" transform="rotate(-26 598.7 641.7)"/><ellipse cx="629.3" cy="610.4" rx="1.6" ry="1.8" transform="rotate(14 629.3 610.4)"/><ellipse cx="620.6" cy="582.7" rx="1.0" ry="2.3" transform="rotate(-28 620.6 582.7)"/><ellipse cx="629.1" cy="573.5" rx="0.9" ry="1.2" transform="rotate(23 629.1 573.5)"/><ellipse cx="630.3" cy="595.1" rx="1.5" ry="1.4" transform="rotate(32 630.3 595.1)"/><ellipse cx="621.0" cy="568.1" rx="0.9" ry="2.1" transform="rotate(-37 621.0 568.1)"/><ellipse cx="626.3" cy="582.5" rx="1.0" ry="1.9" transform="rotate(-15 626.3 582.5)"/><ellipse cx="616.6" cy="568.0" rx="1.7" ry="1.5" transform="rotate(27 616.6 568.0)"/><ellipse cx="602.3" cy="635.1" rx="1.8" ry="1.6" transform="rotate(-37 602.3 635.1)"/><ellipse cx="610.3" cy="618.6" rx="1.0" ry="1.9" transform="rotate(-33 610.3 618.6)"/><ellipse cx="613.3" cy="627.7" rx="1.2" ry="2.1" transform="rotate(-31 613.3 627.7)"/><ellipse cx="626.0" cy="564.7" rx="1.7" ry="2.6" transform="rotate(35 626.0 564.7)"/><ellipse cx="615.4" cy="582.2" rx="1.1" ry="2.2" transform="rotate(-0 615.4 582.2)"/><ellipse cx="629.5" cy="561.7" rx="1.3" ry="2.4" transform="rotate(8 629.5 561.7)"/><ellipse cx="615.9" cy="561.2" rx="0.9" ry="1.4" transform="rotate(31 615.9 561.2)"/><ellipse cx="626.6" cy="575.6" rx="1.7" ry="1.1" transform="rotate(8 626.6 575.6)"/><ellipse cx="630.9" cy="587.8" rx="1.7" ry="2.1" transform="rotate(-36 630.9 587.8)"/><ellipse cx="608.7" cy="598.8" rx="1.0" ry="2.2" transform="rotate(-26 608.7 598.8)"/><ellipse cx="624.6" cy="583.0" rx="0.9" ry="1.9" transform="rotate(-32 624.6 583.0)"/><ellipse cx="616.3" cy="634.0" rx="1.4" ry="1.7" transform="rotate(-37 616.3 634.0)"/><ellipse cx="615.0" cy="562.1" rx="1.4" ry="1.2" transform="rotate(6 615.0 562.1)"/><ellipse cx="609.4" cy="591.0" rx="1.5" ry="1.3" transform="rotate(-26 609.4 591.0)"/><ellipse cx="630.0" cy="586.5" rx="1.6" ry="2.4" transform="rotate(-2 630.0 586.5)"/><ellipse cx="602.2" cy="561.8" rx="1.7" ry="1.2" transform="rotate(-0 602.2 561.8)"/><ellipse cx="615.8" cy="564.2" rx="1.3" ry="1.3" transform="rotate(3 615.8 564.2)"/><ellipse cx="614.7" cy="590.2" rx="1.0" ry="1.6" transform="rotate(-24 614.7 590.2)"/><ellipse cx="601.4" cy="576.9" rx="1.7" ry="1.8" transform="rotate(31 601.4 576.9)"/><ellipse cx="597.5" cy="650.1" rx="1.3" ry="2.3" transform="rotate(6 597.5 650.1)"/><ellipse cx="621.1" cy="575.8" rx="1.6" ry="1.2" transform="rotate(-19 621.1 575.8)"/><ellipse cx="598.1" cy="592.9" rx="1.3" ry="1.5" transform="rotate(31 598.1 592.9)"/><ellipse cx="600.0" cy="612.2" rx="1.0" ry="2.0" transform="rotate(23 600.0 612.2)"/><ellipse cx="621.9" cy="558.5" rx="1.0" ry="2.0" transform="rotate(39 621.9 558.5)"/><ellipse cx="598.4" cy="616.3" rx="1.5" ry="2.3" transform="rotate(-13 598.4 616.3)"/><ellipse cx="625.4" cy="600.0" rx="1.7" ry="1.0" transform="rotate(35 625.4 600.0)"/><ellipse cx="611.4" cy="594.3" rx="0.9" ry="1.4" transform="rotate(19 611.4 594.3)"/><ellipse cx="620.8" cy="567.7" rx="1.1" ry="1.2" transform="rotate(-24 620.8 567.7)"/><ellipse cx="604.7" cy="586.4" rx="1.8" ry="2.6" transform="rotate(23 604.7 586.4)"/><ellipse cx="613.8" cy="603.7" rx="1.6" ry="2.5" transform="rotate(20 613.8 603.7)"/><ellipse cx="619.3" cy="572.7" rx="1.4" ry="2.4" transform="rotate(23 619.3 572.7)"/><ellipse cx="600.2" cy="626.6" rx="1.1" ry="1.3" transform="rotate(37 600.2 626.6)"/><ellipse cx="620.5" cy="629.5" rx="0.9" ry="2.3" transform="rotate(35 620.5 629.5)"/><ellipse cx="628.7" cy="629.5" rx="1.6" ry="2.3" transform="rotate(7 628.7 629.5)"/><ellipse cx="612.2" cy="637.8" rx="1.6" ry="2.4" transform="rotate(-16 612.2 637.8)"/><ellipse cx="630.6" cy="607.3" rx="1.7" ry="1.2" transform="rotate(37 630.6 607.3)"/><ellipse cx="624.6" cy="578.2" rx="1.6" ry="1.4" transform="rotate(-24 624.6 578.2)"/><ellipse cx="613.0" cy="576.6" rx="1.3" ry="2.5" transform="rotate(15 613.0 576.6)"/><ellipse cx="621.9" cy="592.8" rx="1.6" ry="2.3" transform="rotate(15 621.9 592.8)"/><ellipse cx="630.0" cy="637.9" rx="1.2" ry="1.1" transform="rotate(12 630.0 637.9)"/><ellipse cx="626.3" cy="587.3" rx="1.4" ry="2.3" transform="rotate(23 626.3 587.3)"/><ellipse cx="597.2" cy="602.9" rx="0.8" ry="1.2" transform="rotate(25 597.2 602.9)"/><ellipse cx="611.7" cy="614.9" rx="1.3" ry="1.5" transform="rotate(-23 611.7 614.9)"/><ellipse cx="609.4" cy="639.8" rx="1.4" ry="1.5" transform="rotate(-33 609.4 639.8)"/><ellipse cx="606.5" cy="624.9" rx="1.2" ry="2.1" transform="rotate(25 606.5 624.9)"/><ellipse cx="601.2" cy="623.0" rx="0.8" ry="2.3" transform="rotate(-25 601.2 623.0)"/><ellipse cx="606.5" cy="651.6" rx="1.2" ry="1.4" transform="rotate(31 606.5 651.6)"/><ellipse cx="618.4" cy="645.0" rx="1.2" ry="1.8" transform="rotate(36 618.4 645.0)"/><ellipse cx="614.7" cy="654.8" rx="1.0" ry="2.3" transform="rotate(-27 614.7 654.8)"/><ellipse cx="615.5" cy="552.0" rx="1.0" ry="2.5" transform="rotate(-4 615.5 552.0)"/><ellipse cx="625.3" cy="578.1" rx="1.2" ry="1.2" transform="rotate(4 625.3 578.1)"/><ellipse cx="627.2" cy="605.4" rx="1.2" ry="2.5" transform="rotate(32 627.2 605.4)"/><ellipse cx="620.3" cy="559.9" rx="1.4" ry="1.7" transform="rotate(37 620.3 559.9)"/><ellipse cx="609.7" cy="620.8" rx="1.4" ry="1.6" transform="rotate(2 609.7 620.8)"/><ellipse cx="620.7" cy="646.3" rx="1.3" ry="1.6" transform="rotate(38 620.7 646.3)"/><ellipse cx="599.0" cy="638.8" rx="1.5" ry="1.9" transform="rotate(-4 599.0 638.8)"/><ellipse cx="623.3" cy="644.7" rx="1.5" ry="2.2" transform="rotate(-37 623.3 644.7)"/><ellipse cx="608.4" cy="566.2" rx="1.8" ry="2.4" transform="rotate(-28 608.4 566.2)"/><ellipse cx="617.6" cy="612.0" rx="0.8" ry="1.6" transform="rotate(20 617.6 612.0)"/><ellipse cx="619.5" cy="581.2" rx="1.6" ry="1.5" transform="rotate(4 619.5 581.2)"/><ellipse cx="611.7" cy="653.7" rx="1.4" ry="2.3" transform="rotate(14 611.7 653.7)"/><ellipse cx="610.3" cy="652.2" rx="1.5" ry="2.1" transform="rotate(-18 610.3 652.2)"/><ellipse cx="602.7" cy="611.8" rx="1.6" ry="2.3" transform="rotate(-12 602.7 611.8)"/><ellipse cx="601.9" cy="605.7" rx="1.7" ry="1.3" transform="rotate(19 601.9 605.7)"/><ellipse cx="603.0" cy="584.4" rx="0.9" ry="1.5" transform="rotate(-9 603.0 584.4)"/><ellipse cx="630.8" cy="652.1" rx="1.0" ry="1.5" transform="rotate(35 630.8 652.1)"/><ellipse cx="603.9" cy="585.4" rx="1.2" ry="1.2" transform="rotate(-19 603.9 585.4)"/><ellipse cx="610.8" cy="592.1" rx="1.8" ry="1.4" transform="rotate(-24 610.8 592.1)"/><ellipse cx="628.8" cy="598.8" rx="1.6" ry="2.0" transform="rotate(22 628.8 598.8)"/><ellipse cx="608.0" cy="567.8" rx="1.6" ry="1.8" transform="rotate(5 608.0 567.8)"/><ellipse cx="620.5" cy="630.3" rx="1.1" ry="1.6" transform="rotate(33 620.5 630.3)"/><ellipse cx="615.5" cy="582.0" rx="1.4" ry="1.4" transform="rotate(22 615.5 582.0)"/><ellipse cx="598.4" cy="638.0" rx="1.4" ry="1.6" transform="rotate(35 598.4 638.0)"/><ellipse cx="606.3" cy="577.3" rx="0.9" ry="1.9" transform="rotate(20 606.3 577.3)"/><ellipse cx="620.7" cy="594.9" rx="1.6" ry="1.2" transform="rotate(-15 620.7 594.9)"/><ellipse cx="619.6" cy="652.6" rx="1.4" ry="2.1" transform="rotate(22 619.6 652.6)"/><ellipse cx="610.8" cy="649.8" rx="1.5" ry="1.5" transform="rotate(-9 610.8 649.8)"/><ellipse cx="625.2" cy="588.4" rx="1.0" ry="2.4" transform="rotate(3 625.2 588.4)"/><ellipse cx="615.2" cy="621.6" rx="1.7" ry="1.2" transform="rotate(-13 615.2 621.6)"/><ellipse cx="599.3" cy="595.0" rx="1.3" ry="2.4" transform="rotate(13 599.3 595.0)"/><ellipse cx="617.2" cy="594.0" rx="1.4" ry="1.4" transform="rotate(28 617.2 594.0)"/><ellipse cx="624.6" cy="639.2" rx="1.0" ry="2.1" transform="rotate(20 624.6 639.2)"/><ellipse cx="614.5" cy="645.4" rx="1.7" ry="2.2" transform="rotate(26 614.5 645.4)"/><ellipse cx="619.7" cy="643.4" rx="0.9" ry="2.1" transform="rotate(16 619.7 643.4)"/><ellipse cx="618.4" cy="580.6" rx="0.9" ry="2.0" transform="rotate(26 618.4 580.6)"/><ellipse cx="606.6" cy="574.2" rx="1.0" ry="1.2" transform="rotate(14 606.6 574.2)"/><ellipse cx="631.1" cy="635.4" rx="1.2" ry="2.1" transform="rotate(-34 631.1 635.4)"/><ellipse cx="626.4" cy="585.8" rx="0.8" ry="2.0" transform="rotate(-29 626.4 585.8)"/><ellipse cx="606.6" cy="558.1" rx="1.2" ry="1.9" transform="rotate(25 606.6 558.1)"/><ellipse cx="598.4" cy="638.0" rx="0.9" ry="1.4" transform="rotate(10 598.4 638.0)"/><ellipse cx="608.9" cy="586.4" rx="1.4" ry="1.3" transform="rotate(23 608.9 586.4)"/><ellipse cx="604.3" cy="639.3" rx="1.6" ry="1.9" transform="rotate(-38 604.3 639.3)"/><ellipse cx="624.2" cy="555.0" rx="1.3" ry="1.7" transform="rotate(-35 624.2 555.0)"/><ellipse cx="619.1" cy="627.4" rx="1.4" ry="1.6" transform="rotate(1 619.1 627.4)"/><ellipse cx="617.6" cy="575.5" rx="1.7" ry="2.6" transform="rotate(24 617.6 575.5)"/><ellipse cx="630.6" cy="586.3" rx="1.8" ry="1.1" transform="rotate(-2 630.6 586.3)"/><ellipse cx="601.7" cy="599.2" rx="1.5" ry="2.1" transform="rotate(-4 601.7 599.2)"/><ellipse cx="609.0" cy="571.8" rx="1.2" ry="1.5" transform="rotate(-24 609.0 571.8)"/><ellipse cx="622.8" cy="605.7" rx="1.2" ry="1.3" transform="rotate(16 622.8 605.7)"/><ellipse cx="603.9" cy="579.6" rx="1.4" ry="2.1" transform="rotate(38 603.9 579.6)"/><ellipse cx="623.2" cy="650.6" rx="1.7" ry="2.2" transform="rotate(18 623.2 650.6)"/><ellipse cx="599.2" cy="573.4" rx="0.8" ry="2.4" transform="rotate(18 599.2 573.4)"/><ellipse cx="619.1" cy="579.4" rx="1.2" ry="1.3" transform="rotate(11 619.1 579.4)"/><ellipse cx="631.7" cy="583.8" rx="0.8" ry="1.3" transform="rotate(-12 631.7 583.8)"/><ellipse cx="628.5" cy="635.7" rx="1.3" ry="1.2" transform="rotate(-31 628.5 635.7)"/><ellipse cx="602.4" cy="632.9" rx="1.3" ry="2.6" transform="rotate(33 602.4 632.9)"/><ellipse cx="624.8" cy="601.5" rx="1.6" ry="1.2" transform="rotate(-31 624.8 601.5)"/><ellipse cx="616.7" cy="604.8" rx="1.0" ry="1.4" transform="rotate(-38 616.7 604.8)"/><ellipse cx="628.8" cy="625.9" rx="1.7" ry="2.6" transform="rotate(-5 628.8 625.9)"/><ellipse cx="622.6" cy="592.0" rx="1.6" ry="2.3" transform="rotate(-29 622.6 592.0)"/><ellipse cx="597.5" cy="574.3" rx="1.4" ry="1.6" transform="rotate(-39 597.5 574.3)"/><ellipse cx="626.1" cy="633.7" rx="1.3" ry="1.1" transform="rotate(31 626.1 633.7)"/><ellipse cx="615.7" cy="559.4" rx="1.1" ry="2.0" transform="rotate(31 615.7 559.4)"/><ellipse cx="614.0" cy="618.5" rx="1.0" ry="1.4" transform="rotate(32 614.0 618.5)"/><ellipse cx="610.4" cy="562.8" rx="1.4" ry="1.2" transform="rotate(-24 610.4 562.8)"/><ellipse cx="613.0" cy="612.9" rx="1.4" ry="2.1" transform="rotate(-5 613.0 612.9)"/><ellipse cx="599.4" cy="627.3" rx="0.9" ry="1.8" transform="rotate(-8 599.4 627.3)"/><ellipse cx="620.6" cy="626.2" rx="1.0" ry="2.0" transform="rotate(15 620.6 626.2)"/><ellipse cx="613.5" cy="566.7" rx="1.7" ry="2.0" transform="rotate(-35 613.5 566.7)"/><ellipse cx="605.4" cy="654.6" rx="1.0" ry="1.6" transform="rotate(23 605.4 654.6)"/><ellipse cx="625.8" cy="617.9" rx="1.5" ry="1.1" transform="rotate(-32 625.8 617.9)"/><ellipse cx="631.2" cy="635.5" rx="0.8" ry="1.1" transform="rotate(-21 631.2 635.5)"/><ellipse cx="629.6" cy="574.8" rx="1.5" ry="2.5" transform="rotate(11 629.6 574.8)"/><ellipse cx="629.2" cy="579.3" rx="1.0" ry="1.0" transform="rotate(21 629.2 579.3)"/><ellipse cx="600.6" cy="653.2" rx="1.5" ry="1.3" transform="rotate(25 600.6 653.2)"/><ellipse cx="602.7" cy="605.3" rx="0.9" ry="2.3" transform="rotate(31 602.7 605.3)"/><ellipse cx="629.1" cy="552.2" rx="1.7" ry="1.9" transform="rotate(26 629.1 552.2)"/><ellipse cx="614.6" cy="616.5" rx="1.4" ry="2.3" transform="rotate(-34 614.6 616.5)"/><ellipse cx="598.9" cy="608.7" rx="1.1" ry="1.6" transform="rotate(-39 598.9 608.7)"/><ellipse cx="623.1" cy="554.5" rx="1.6" ry="2.3" transform="rotate(-3 623.1 554.5)"/><ellipse cx="601.3" cy="619.6" rx="1.0" ry="1.7" transform="rotate(-31 601.3 619.6)"/><ellipse cx="631.2" cy="608.8" rx="1.2" ry="1.2" transform="rotate(18 631.2 608.8)"/><ellipse cx="626.7" cy="640.2" rx="0.9" ry="1.6" transform="rotate(-16 626.7 640.2)"/><ellipse cx="623.7" cy="567.4" rx="1.4" ry="2.6" transform="rotate(22 623.7 567.4)"/><ellipse cx="597.2" cy="559.8" rx="0.9" ry="2.1" transform="rotate(8 597.2 559.8)"/><ellipse cx="615.2" cy="599.4" rx="1.2" ry="2.0" transform="rotate(12 615.2 599.4)"/><ellipse cx="629.1" cy="628.2" rx="1.6" ry="2.5" transform="rotate(27 629.1 628.2)"/><ellipse cx="622.1" cy="555.2" rx="1.5" ry="2.4" transform="rotate(-6 622.1 555.2)"/><ellipse cx="627.7" cy="570.7" rx="1.7" ry="1.7" transform="rotate(17 627.7 570.7)"/><ellipse cx="605.8" cy="583.3" rx="1.1" ry="1.5" transform="rotate(-32 605.8 583.3)"/><ellipse cx="612.5" cy="654.0" rx="1.5" ry="2.5" transform="rotate(21 612.5 654.0)"/><ellipse cx="626.3" cy="655.4" rx="1.6" ry="1.4" transform="rotate(-20 626.3 655.4)"/><ellipse cx="611.4" cy="554.2" rx="1.0" ry="2.4" transform="rotate(34 611.4 554.2)"/><ellipse cx="608.5" cy="632.1" rx="1.6" ry="2.4" transform="rotate(24 608.5 632.1)"/><ellipse cx="615.6" cy="562.9" rx="1.6" ry="1.5" transform="rotate(10 615.6 562.9)"/><ellipse cx="609.8" cy="607.9" rx="1.8" ry="1.3" transform="rotate(2 609.8 607.9)"/><ellipse cx="619.7" cy="608.0" rx="1.7" ry="1.7" transform="rotate(33 619.7 608.0)"/><ellipse cx="621.1" cy="652.6" rx="0.9" ry="1.3" transform="rotate(-17 621.1 652.6)"/><ellipse cx="628.7" cy="553.4" rx="1.1" ry="2.1" transform="rotate(39 628.7 553.4)"/></g>
<path d="M607,555 C611,552 616,553 620,558 C616,561 610,562 606,560 Z" fill="#c8403a"/>
<rect x="597" y="552" width="35" height="103" fill="url(#gTopR)"/>
<rect x="597" y="552" width="35" height="103" fill="url(#gEdgeR)"/>
<ellipse cx="613" cy="590" rx="3.8" ry="20" fill="#dca024"/>
<ellipse cx="613.5" cy="573" rx="2" ry="2.5" fill="#f4e0b0"/>
</g>
<path d="M568.8,564 C567.5,570 566.4,577 566.1,583.6 C565.6,591 565.2,599 565.2,606.8 C565.6,612 566.5,617.5 567.9,622.8 C569,626 570,629 571.4,631.7" stroke="#ece6c0" stroke-width="3.2" fill="none" stroke-linecap="round"/>
<ellipse cx="571" cy="639.3" rx="4.6" ry="5.6" fill="#a46a3a" transform="rotate(25 571 639.3)"/>
<path d="M588.3,564 C588.7,570 589,577 589.2,583.6 C589.8,591 590.6,599 591,606.8 C590.8,612 590.2,617.5 589.2,622.8 C588.4,625.5 587.5,627.8 586.6,629.9" stroke="#ece6c0" stroke-width="3.2" fill="none" stroke-linecap="round"/>
<ellipse cx="585.2" cy="642.4" rx="5.6" ry="13.3" fill="#d2684a"/>
<path d="M583.2,632 L583.2,653 M587.2,632 L587.2,653" stroke="#b84a34" stroke-width="0.9"/>
</g>
<!-- ===== F. imperialis ===== -->
<text x="482.2" y="761.1" class="ft" textLength="79.5" lengthAdjust="spacingAndGlyphs">F. imperialis</text>
<line x1="507.7" y1="845.5" x2="507.7" y2="886.4" stroke="#a0a0a0" stroke-width="0.9"/>
<text transform="translate(502.5,867) rotate(90)" font-size="3.4" fill="#555" text-anchor="middle">2 cm</text>
<g filter="url(#soft)"><clipPath id="cpIL"><path id="pIL" d="M553.8,819.2 C549,821 545,823.5 541,826.5 C537.5,831 534.5,836 531.9,841.1 C528.5,847 525.5,853 522.8,859.3 C520.2,865.3 518,871.4 516.4,877.6 C515.6,882.5 515.3,887.3 515.5,892.2 C516,897 517,902 518.2,906.8 C519.3,908.5 520.5,910 521.9,911.4 C524.2,908.8 526.3,906 528.2,903.1 C530.8,899.5 533.3,895.9 535.5,892.2 C537.2,889.8 538.7,887.4 540.1,884.9 C544,881 548,876 551,868 C555,855 558,838 559,824 Z"/></clipPath>
<clipPath id="cpIM"><path id="pIM" d="M548,840 C544,855 540,870 540.1,884.9 C542,888.5 544,892.3 546.5,895.8 C548.8,898.4 551.2,900.8 553.8,903.1 C557,908 560.5,913 564.7,917.7 C568,918.5 571,918 574,916 C579,913 584,910 588.5,906.8 C591,903.2 593.5,899.5 595.8,895.8 C597.2,891 598.5,886 599.4,881.2 C600,870 598,855 594,842 C588,830 580,823 570,821 C560,822 553,830 548,840 Z"/></clipPath>
<clipPath id="cpIR"><path id="pIR" d="M573.9,817.4 C578,818.5 582.5,819.8 586.6,821 C590.5,824.5 594.2,828.2 597.6,832 C600.8,836.2 603.9,840.4 606.7,844.7 C609.6,849.5 612.4,854.3 614.9,859.3 C616.6,864.8 618.1,870.3 619.5,875.8 C621.2,881.3 623,886.7 625,892.2 C626.2,895.8 627.4,899.5 628.6,903.1 C628.3,903.4 628,903.7 627.7,904 C624.9,902.5 622.2,901 619.5,899.5 C617,897.1 614.6,894.6 612.2,892.2 C609.7,888.5 607.3,884.9 604.9,881.2 C603,881.2 601.2,881.2 599.4,881.2 C598,868 596,855 590,842 C586,833 580,825 573.9,817.4 Z"/></clipPath>
<use href="#pIM" fill="#f2ae1c"/>
<g clip-path="url(#cpIM)"><path d="M567.8,822.0 Q554.4,868.5 540.7,915.0 M568.8,822.0 Q555.6,868.5 543.1,915.0 M569.0,822.0 Q556.6,868.5 545.2,915.0 M567.0,822.0 Q557.4,868.5 546.8,915.0 M568.8,822.0 Q558.3,868.5 548.6,915.0 M567.0,822.0 Q559.4,868.5 550.8,915.0 M568.6,822.0 Q560.7,868.5 553.4,915.0 M568.6,822.0 Q561.5,868.5 555.1,915.0 M568.8,822.0 Q562.5,868.5 557.1,915.0 M566.3,822.0 Q563.4,868.5 558.8,915.0 M566.1,822.0 Q564.3,868.5 560.7,915.0 M566.6,822.0 Q565.4,868.5 562.9,915.0 M568.0,822.0 Q566.3,868.5 564.7,915.0 M568.8,822.0 Q567.7,868.5 567.4,915.0 M569.1,822.0 Q568.4,868.5 568.8,915.0 M566.4,822.0 Q569.4,868.5 570.7,915.0 M567.6,822.0 Q570.4,868.5 572.8,915.0 M567.8,822.0 Q571.6,868.5 575.2,915.0 M566.4,822.0 Q572.6,868.5 577.2,915.0 M567.4,822.0 Q573.7,868.5 579.3,915.0 M566.1,822.0 Q574.6,868.5 581.3,915.0 M566.9,822.0 Q575.6,868.5 583.3,915.0 M569.2,822.0 Q576.6,868.5 585.3,915.0 M567.1,822.0 Q577.6,868.5 587.1,915.0 M566.8,822.0 Q578.3,868.5 588.6,915.0 M566.6,822.0 Q579.7,868.5 591.3,915.0 M568.3,822.0 Q580.6,868.5 593.1,915.0 M566.7,822.0 Q581.6,868.5 595.1,915.0 M566.4,822.0 Q582.4,868.5 596.7,915.0 M567.5,822.0 Q583.7,868.5 599.4,915.0" fill="none" stroke="#dc7408" stroke-width="0.70" opacity="0.70"/></g>
<use href="#pIL" fill="#eea214"/>
<g clip-path="url(#cpIL)"><path d="M556.3,820.0 Q532.4,852.9 508.9,885.7 M554.3,820.0 Q533.1,853.4 510.1,886.7 M557.4,820.0 Q533.8,853.9 511.6,887.9 M557.9,820.0 Q534.6,854.6 513.2,889.2 M556.9,820.0 Q535.4,855.3 514.9,890.6 M557.2,820.0 Q536.1,855.8 516.3,891.7 M555.5,820.0 Q536.9,856.5 517.9,893.0 M554.4,820.0 Q537.8,857.2 519.6,894.4 M557.2,820.0 Q538.5,857.7 520.9,895.5 M555.5,820.0 Q539.3,858.4 522.5,896.8 M554.9,820.0 Q540.2,859.1 524.4,898.3 M554.9,820.0 Q540.8,859.6 525.5,899.2 M555.5,820.0 Q541.6,860.3 527.2,900.6 M555.9,820.0 Q542.4,861.0 528.9,901.9 M554.2,820.0 Q543.3,861.7 530.6,903.3 M557.3,820.0 Q544.0,862.2 532.0,904.5 M554.1,820.0 Q544.6,862.7 533.3,905.5 M554.5,820.0 Q545.5,863.4 534.9,906.8 M556.8,820.0 Q546.2,864.1 536.5,908.1 M554.5,820.0 Q546.9,864.6 537.8,909.2 M554.7,820.0 Q547.8,865.3 539.6,910.6 M555.8,820.0 Q548.5,865.9 541.0,911.7 M554.3,820.0 Q549.2,866.5 542.5,912.9 M555.9,820.0 Q550.1,867.2 544.1,914.3" fill="none" stroke="#d46a06" stroke-width="0.70" opacity="0.80"/></g>
<use href="#pIR" fill="#eea214"/>
<g clip-path="url(#cpIR)"><path d="M576.2,818.0 Q587.5,851.8 599.0,885.6 M574.9,818.0 Q588.0,852.1 600.0,886.1 M576.3,818.0 Q589.0,852.6 602.0,887.2 M577.8,818.0 Q589.8,853.0 603.6,888.0 M574.4,818.0 Q590.6,853.4 605.2,888.9 M576.1,818.0 Q591.4,853.9 606.8,889.7 M574.7,818.0 Q591.9,854.2 607.9,890.3 M574.8,818.0 Q592.9,854.7 609.8,891.4 M575.1,818.0 Q593.4,855.0 610.8,891.9 M575.8,818.0 Q594.5,855.5 612.9,893.1 M574.3,818.0 Q595.2,855.9 614.3,893.8 M575.3,818.0 Q595.9,856.3 615.7,894.6 M576.7,818.0 Q596.5,856.7 617.1,895.3 M574.5,818.0 Q597.4,857.1 618.7,896.2 M575.9,818.0 Q598.3,857.6 620.7,897.2 M574.0,818.0 Q598.8,857.9 621.7,897.8 M576.1,818.0 Q599.8,858.4 623.5,898.8 M575.9,818.0 Q600.3,858.7 624.7,899.4 M576.1,818.0 Q601.3,859.2 626.7,900.5 M576.0,818.0 Q601.9,859.6 627.9,901.2 M576.6,818.0 Q602.8,860.1 629.7,902.1 M577.2,818.0 Q603.5,860.4 630.9,902.8 M577.0,818.0 Q604.5,860.9 633.0,903.9 M575.5,818.0 Q605.2,861.4 634.4,904.7" fill="none" stroke="#d46a06" stroke-width="0.70" opacity="0.80"/></g>
<path d="M541,826 C546,819 552,816.5 560,817.5 L560,820.5 C553,820 547,822 541,826 Z" fill="#4a4426"/>
<path d="M572,816.5 C578,814.5 584,815.5 590,820 C585,818.5 578,818.5 572,819.8 Z" fill="#4a4426"/>
<!-- stamens -->
<g fill="none" stroke-linecap="round">
<path d="M563,823 C560,840 555,860 551,875 C550,882 550.5,888 552,893" stroke="#ece4c4" stroke-width="2"/>
<path d="M566,823 C565,845 560,862 560,880 C562,895 572,915 586,930" stroke="#d8e2a8" stroke-width="2.4"/>
<path d="M568,823 C570,845 571,870 573,890 C575,905 580,918 588,934" stroke="#ece4c4" stroke-width="2"/>
<path d="M570,823 C574,840 575,860 576,880 C577,895 582,912 594,932" stroke="#ece4c4" stroke-width="1.8"/>
<path d="M565,823 C567,832 568,845 568,860" stroke="#c8dc90" stroke-width="3"/>
</g>
<ellipse cx="552" cy="892" rx="2.6" ry="7.5" fill="#ecd8b0" transform="rotate(-8 552 892)"/>
<ellipse cx="564.5" cy="913" rx="3" ry="7.2" fill="#ecd8b0" transform="rotate(-35 564.5 913)"/>
<ellipse cx="576.5" cy="907.5" rx="3" ry="8.5" fill="#ecd8b0" transform="rotate(-15 576.5 907.5)"/>
<path d="M525.5,815.5 C528,812.5 530.5,810.2 533.7,808.2 C537,805.5 540.5,803 544.7,801 C548.3,799.3 552,798.3 555.6,798.2 C558.5,798.7 561,799.7 562.9,801 C564.6,803.2 565.8,805.6 566.6,808.2 C567.2,811.3 567.5,814.3 567.5,817.4" fill="none" stroke="#4e6a2c" stroke-width="4.2" stroke-linecap="round"/>
<ellipse cx="566.5" cy="820" rx="5" ry="2.6" fill="#7a9a34"/>
<clipPath id="cpIP1"><path id="pIP1" d="M540.1,945.3 C537.5,948.2 535.5,951.2 533.7,954.4 C531.3,959.2 529.2,964 527.3,969 C525.3,974.4 523.5,979.9 521.9,985.4 C520.5,990.9 519.2,996.4 518.2,1001.9 C518.6,1006.8 519.2,1011.7 520,1016.5 C522,1020.9 524.1,1025.1 526.4,1029.2 C529.3,1033 532.4,1036.6 535.5,1040.2 C538.3,1042.5 541,1044.6 543.8,1046.6 C545,1046.9 546.2,1047.2 547.4,1047.5 C548,1047.5 548.6,1047.5 549.2,1047.5 C551.4,1045.1 553.5,1042.6 555.6,1040.2 C558.1,1035.9 560.6,1031.7 562.9,1027.4 C564.9,1023.1 566.7,1018.9 568.4,1014.6 C569.5,1010.4 570.4,1006.1 571.1,1001.9 C570.3,997.6 569.4,993.3 568.4,989.1 C566.7,984.8 564.9,980.5 562.9,976.3 C560.6,970.8 558.2,965.3 555.6,959.9 C553.3,956.8 550.9,953.8 548.3,950.8 C545.6,948.9 542.9,947.1 540.1,945.3 Z"/></clipPath>
<use href="#pIP1" fill="#f4b41c"/>
<g clip-path="url(#cpIP1)"><path d="M542.2,953.0 Q538.0,955.7 532.3,957.5 M540.0,953.0 Q537.0,959.5 529.6,963.8 M540.2,953.0 Q536.1,963.3 526.9,970.1 M541.3,953.0 Q535.3,967.2 524.8,976.6 M542.2,953.0 Q534.6,971.1 522.6,983.2 M539.7,953.0 Q534.0,975.1 520.9,989.8 M540.2,953.0 Q533.4,979.1 519.4,996.5 M539.6,953.0 Q533.1,983.1 518.4,1003.2 M540.8,953.0 Q533.4,987.2 519.2,1010.0 M539.9,953.0 Q533.7,991.3 520.1,1016.8 M540.1,953.0 Q534.8,994.9 523.2,1022.9 M541.7,953.0 Q535.9,998.6 526.3,1029.0 M541.2,953.0 Q537.4,1001.8 530.6,1034.3 M542.3,953.0 Q538.9,1004.9 535.0,1039.6 M540.7,953.0 Q540.8,1007.5 540.3,1043.9 M541.5,953.0 Q542.8,1009.4 546.2,1047.0 M539.5,953.0 Q544.7,1008.0 551.7,1044.6 M542.3,953.0 Q546.3,1004.8 556.1,1039.4 M540.2,953.0 Q547.5,1001.3 559.5,1033.4 M540.9,953.0 Q548.7,997.7 562.9,1027.5 M541.0,953.0 Q549.6,993.9 565.6,1021.2 M542.3,953.0 Q550.5,990.1 568.3,1014.9 M541.0,953.0 Q551.1,986.1 569.8,1008.2 M542.5,953.0 Q551.5,982.1 571.0,1001.5 M541.4,953.0 Q551.0,978.1 569.6,994.8 M540.1,953.0 Q550.4,974.1 568.0,988.1 M542.0,953.0 Q549.5,970.3 565.3,981.8 M540.1,953.0 Q548.5,966.5 562.6,975.6 M542.5,953.0 Q547.6,962.8 559.8,969.3 M540.9,953.0 Q546.6,959.0 557.0,963.0" fill="none" stroke="#e0800c" stroke-width="0.60" opacity="0.70"/><ellipse cx="541.5" cy="966" rx="9" ry="16" fill="url(#gNubShade)"/></g>
<clipPath id="cpIP2"><path id="pIP2" d="M597.6,945.3 C595,948.2 592.6,951.2 590.3,954.4 C587.6,959.2 585.2,964 583,969 C580.9,974.4 579.1,979.9 577.5,985.4 C576.6,990.2 576,995.1 575.7,1000 C576.4,1004.9 577.3,1009.8 578.4,1014.6 C580.4,1018.9 582.5,1023.2 584.8,1027.4 C587.5,1031.7 590.2,1036 593,1040.2 C595.2,1042.4 597.3,1044.6 599.4,1046.6 C600,1046.6 600.6,1046.6 601.2,1046.6 C603.7,1043.9 606.1,1041.1 608.5,1038.4 C611.7,1034.7 614.8,1031.1 617.7,1027.4 C620.4,1023.2 622.8,1018.9 625,1014.6 C626.1,1009.8 627,1004.9 627.7,1000 C627.2,996.4 626.6,992.7 625.9,989.1 C624.5,984.2 623,979.4 621.3,974.5 C619.6,969.6 617.8,964.8 615.8,959.9 C613.5,956.2 611.1,952.6 608.5,949 C605,947.7 601.3,946.5 597.6,945.3 Z"/></clipPath>
<use href="#pIP2" fill="#f2ae1a"/>
<g clip-path="url(#cpIP2)"><path d="M597.2,953.0 Q594.8,955.6 588.8,957.4 M599.4,953.0 Q593.7,959.2 585.8,963.4 M597.5,953.0 Q592.7,962.8 582.9,969.4 M597.7,953.0 Q592.0,966.6 580.8,975.7 M597.5,953.0 Q591.2,970.4 578.6,982.0 M598.5,953.0 Q590.7,974.3 577.1,988.5 M596.6,953.0 Q590.4,978.3 576.3,995.1 M597.6,953.0 Q590.3,982.2 576.0,1001.7 M597.0,953.0 Q590.7,986.2 577.2,1008.3 M599.0,953.0 Q591.2,990.1 578.5,1014.9 M596.5,953.0 Q592.2,993.7 581.5,1020.8 M598.3,953.0 Q593.3,997.3 584.5,1026.8 M597.3,953.0 Q594.5,1000.7 588.0,1032.5 M597.9,953.0 Q595.8,1004.1 591.6,1038.1 M598.2,953.0 Q597.3,1007.1 595.9,1043.1 M598.6,953.0 Q599.1,1009.2 601.2,1046.6 M596.9,953.0 Q600.7,1006.2 605.6,1041.6 M597.2,953.0 Q602.2,1003.1 610.0,1036.6 M596.9,953.0 Q603.7,1000.1 614.3,1031.5 M599.4,953.0 Q605.1,996.9 618.4,1026.2 M596.9,953.0 Q606.3,993.4 621.7,1020.4 M596.9,953.0 Q607.5,989.9 625.0,1014.6 M598.1,953.0 Q607.9,986.0 626.2,1008.0 M598.2,953.0 Q608.3,982.1 627.4,1001.4 M599.2,953.0 Q608.1,978.1 626.9,994.9 M596.7,953.0 Q607.7,974.2 625.6,988.3 M597.2,953.0 Q607.0,970.4 623.6,981.9 M597.0,953.0 Q606.3,966.5 621.6,975.5 M598.3,953.0 Q605.5,962.8 619.3,969.3 M597.9,953.0 Q604.6,959.0 617.0,963.0" fill="none" stroke="#e0800c" stroke-width="0.60" opacity="0.70"/><ellipse cx="598.5" cy="968" rx="10" ry="22" fill="url(#gNubShade2)"/></g>
<ellipse cx="541" cy="948" rx="5.2" ry="3.8" fill="#4a7424"/>
<ellipse cx="541" cy="952.6" rx="5.2" ry="3.8" fill="#5a4a30"/>
<ellipse cx="541" cy="953" rx="4.2" ry="3" fill="#e4e4dc"/>
<ellipse cx="597.8" cy="948" rx="5.2" ry="3.8" fill="#4a7424"/>
<ellipse cx="597.8" cy="952.6" rx="5.2" ry="3.8" fill="#4a3a28"/>
<ellipse cx="597.8" cy="953" rx="4.2" ry="3" fill="#dcdcd4"/></g>

</svg>
</body></html>
